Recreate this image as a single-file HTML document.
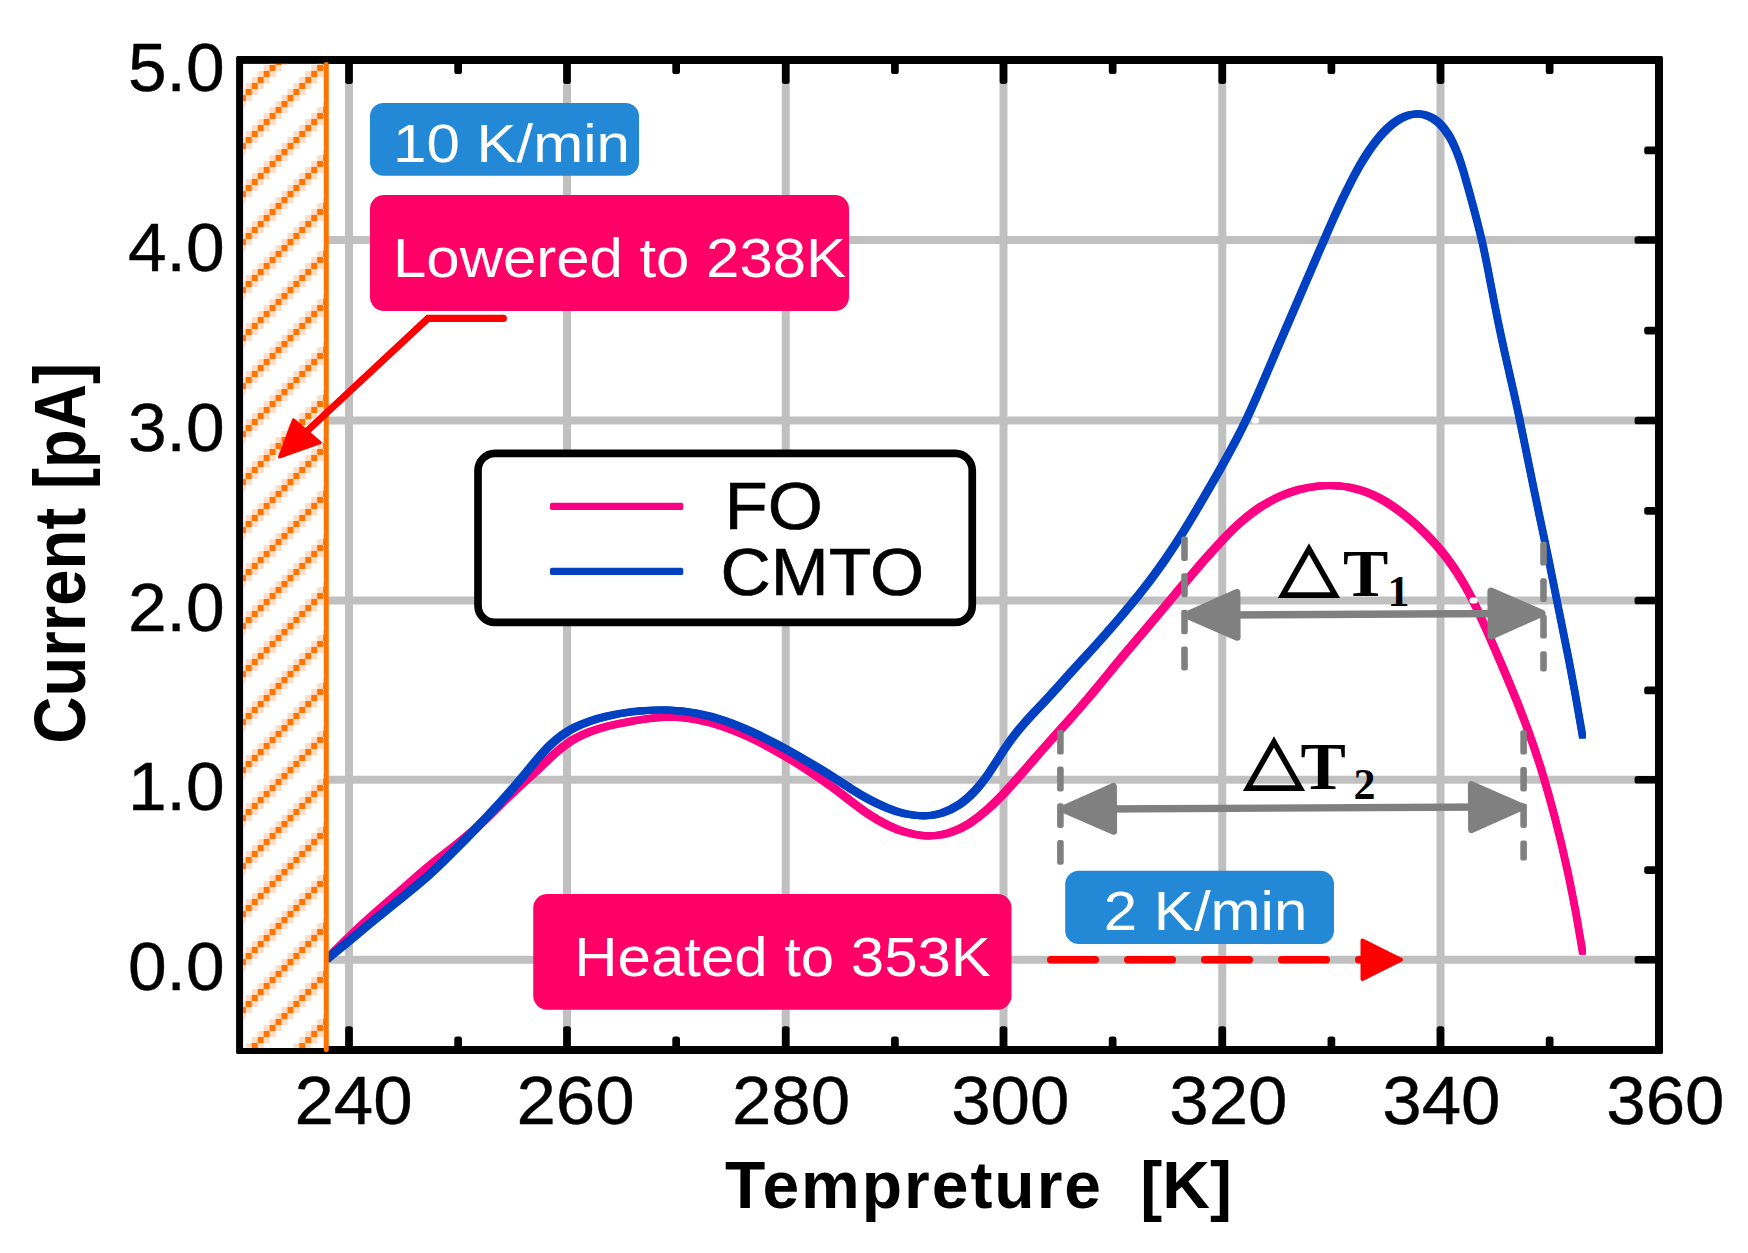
<!DOCTYPE html>
<html><head><meta charset="utf-8"><title>TSC chart</title>
<style>html,body{margin:0;padding:0;background:#fff}svg{display:block}</style></head>
<body>
<svg width="1748" height="1253" viewBox="0 0 1748 1253">
<defs><pattern id="hatch" width="48" height="48" patternUnits="userSpaceOnUse" patternTransform="translate(269.6 65) scale(0.991 1)" shape-rendering="crispEdges">
<rect x="42" y="0" width="6" height="6" fill="#FFDCC3"/>
<rect x="6" y="0" width="6" height="6" fill="#FFDCC3"/>
<rect x="0" y="0" width="6" height="6" fill="#FF7300"/>
<rect x="36" y="6" width="6" height="6" fill="#FFDCC3"/>
<rect x="0" y="6" width="6" height="6" fill="#FFDCC3"/>
<rect x="42" y="6" width="6" height="6" fill="#FF7300"/>
<rect x="30" y="12" width="6" height="6" fill="#FFDCC3"/>
<rect x="42" y="12" width="6" height="6" fill="#FFDCC3"/>
<rect x="36" y="12" width="6" height="6" fill="#FF7300"/>
<rect x="24" y="18" width="6" height="6" fill="#FFDCC3"/>
<rect x="36" y="18" width="6" height="6" fill="#FFDCC3"/>
<rect x="30" y="18" width="6" height="6" fill="#FF7300"/>
<rect x="18" y="24" width="6" height="6" fill="#FFDCC3"/>
<rect x="30" y="24" width="6" height="6" fill="#FFDCC3"/>
<rect x="24" y="24" width="6" height="6" fill="#FF7300"/>
<rect x="12" y="30" width="6" height="6" fill="#FFDCC3"/>
<rect x="24" y="30" width="6" height="6" fill="#FFDCC3"/>
<rect x="18" y="30" width="6" height="6" fill="#FF7300"/>
<rect x="6" y="36" width="6" height="6" fill="#FFDCC3"/>
<rect x="18" y="36" width="6" height="6" fill="#FFDCC3"/>
<rect x="12" y="36" width="6" height="6" fill="#FF7300"/>
<rect x="0" y="42" width="6" height="6" fill="#FFDCC3"/>
<rect x="12" y="42" width="6" height="6" fill="#FFDCC3"/>
<rect x="6" y="42" width="6" height="6" fill="#FF7300"/>
</pattern></defs>
<rect width="1748" height="1253" fill="#fff"/>
<g stroke="#C0C0C0" stroke-width="8" fill="none">
<line x1="349" y1="60.25" x2="349" y2="1050.0"/>
<line x1="567" y1="60.25" x2="567" y2="1050.0"/>
<line x1="785.75" y1="60.25" x2="785.75" y2="1050.0"/>
<line x1="1003.5" y1="60.25" x2="1003.5" y2="1050.0"/>
<line x1="1222.25" y1="60.25" x2="1222.25" y2="1050.0"/>
<line x1="1440.5" y1="60.25" x2="1440.5" y2="1050.0"/>
<line x1="240.0" y1="959.75" x2="1659.25" y2="959.75"/>
<line x1="240.0" y1="779.75" x2="1659.25" y2="779.75"/>
<line x1="240.0" y1="600.5" x2="1659.25" y2="600.5"/>
<line x1="240.0" y1="420.5" x2="1659.25" y2="420.5"/>
<line x1="240.0" y1="240" x2="1659.25" y2="240"/>
</g>
<g fill="#000">
<rect x="345.15" y="58.00" width="7.7" height="25.90" rx="2.6"/>
<rect x="345.15" y="1026.20" width="7.7" height="25.80" rx="2.6"/>
<rect x="454.30" y="58.00" width="7.7" height="16.10" rx="2.6"/>
<rect x="454.30" y="1036.40" width="7.7" height="15.60" rx="2.6"/>
<rect x="563.15" y="58.00" width="7.7" height="25.90" rx="2.6"/>
<rect x="563.15" y="1026.20" width="7.7" height="25.80" rx="2.6"/>
<rect x="672.30" y="58.00" width="7.7" height="16.10" rx="2.6"/>
<rect x="672.30" y="1036.40" width="7.7" height="15.60" rx="2.6"/>
<rect x="781.90" y="58.00" width="7.7" height="25.90" rx="2.6"/>
<rect x="781.90" y="1026.20" width="7.7" height="25.80" rx="2.6"/>
<rect x="891.05" y="58.00" width="7.7" height="16.10" rx="2.6"/>
<rect x="891.05" y="1036.40" width="7.7" height="15.60" rx="2.6"/>
<rect x="999.65" y="58.00" width="7.7" height="25.90" rx="2.6"/>
<rect x="999.65" y="1026.20" width="7.7" height="25.80" rx="2.6"/>
<rect x="1108.80" y="58.00" width="7.7" height="16.10" rx="2.6"/>
<rect x="1108.80" y="1036.40" width="7.7" height="15.60" rx="2.6"/>
<rect x="1218.40" y="58.00" width="7.7" height="25.90" rx="2.6"/>
<rect x="1218.40" y="1026.20" width="7.7" height="25.80" rx="2.6"/>
<rect x="1327.55" y="58.00" width="7.7" height="16.10" rx="2.6"/>
<rect x="1327.55" y="1036.40" width="7.7" height="15.60" rx="2.6"/>
<rect x="1436.65" y="58.00" width="7.7" height="25.90" rx="2.6"/>
<rect x="1436.65" y="1026.20" width="7.7" height="25.80" rx="2.6"/>
<rect x="1545.80" y="58.00" width="7.7" height="16.10" rx="2.6"/>
<rect x="1545.80" y="1036.40" width="7.7" height="15.60" rx="2.6"/>
<rect x="1634.60" y="236.15" width="26.40" height="7.7" rx="2.6"/>
<rect x="1644.20" y="146.58" width="16.80" height="7.7" rx="2.6"/>
<rect x="1634.60" y="416.65" width="26.40" height="7.7" rx="2.6"/>
<rect x="1644.20" y="326.70" width="16.80" height="7.7" rx="2.6"/>
<rect x="1634.60" y="596.65" width="26.40" height="7.7" rx="2.6"/>
<rect x="1644.20" y="506.95" width="16.80" height="7.7" rx="2.6"/>
<rect x="1634.60" y="775.90" width="26.40" height="7.7" rx="2.6"/>
<rect x="1644.20" y="686.57" width="16.80" height="7.7" rx="2.6"/>
<rect x="1634.60" y="955.90" width="26.40" height="7.7" rx="2.6"/>
<rect x="1644.20" y="866.20" width="16.80" height="7.7" rx="2.6"/>
</g>
<rect x="240" y="60" width="86" height="990" fill="#fff"/>
<ellipse cx="1255.3" cy="420.4" rx="3.9" ry="3.2" fill="#fff"/>
<g id="cpink" fill="none" stroke="#FF0084" stroke-width="3.0" stroke-linecap="round" stroke-linejoin="round">
<path transform="translate(-2.08 -2.08)" d="M327.5,958.5C327.9,958.1 328.3,957.7 328.7,957.3C334.8,951.1 341.0,945.0 347.2,938.9C356.1,930.4 365.2,922.0 374.4,913.8C383.2,906.1 392.1,898.5 400.9,890.8C410.3,882.5 419.5,874.1 429.1,866.2C437.7,859.1 446.7,852.4 455.4,845.5C462.3,839.9 469.2,834.2 475.8,828.2C484.0,820.7 492.0,812.9 499.9,805.0C504.1,800.9 508.3,796.8 512.5,792.8C517.1,788.4 521.8,784.1 526.4,779.8C530.4,776.3 534.3,772.7 538.2,769.0C541.3,766.1 544.5,763.1 547.7,760.1C550.8,757.1 554.0,754.2 557.3,751.4C560.4,748.7 563.6,746.2 567.0,743.8C569.9,741.8 572.8,739.9 575.9,738.2C580.2,735.9 584.6,733.9 589.2,732.1C595.1,729.8 601.2,727.9 607.5,726.3C614.8,724.4 622.4,722.9 629.9,721.6C633.5,720.9 637.1,720.3 640.7,719.8C649.9,718.4 659.1,717.4 668.2,717.2C677.4,717.1 686.5,717.8 695.6,719.4C704.9,721.0 714.0,723.4 723.0,726.4C732.3,729.6 741.5,733.4 750.5,737.6C759.9,742.1 769.1,746.9 778.1,752.1C787.4,757.3 796.5,762.8 805.5,768.6C814.7,774.5 823.8,780.7 832.6,787.3C838.4,791.6 844.1,796.1 849.9,800.5C856.0,805.2 862.1,809.9 868.5,814.2C874.3,818.1 880.4,821.7 886.7,824.8C892.6,827.7 898.7,830.3 905.1,832.1C911.0,833.9 917.2,835.2 923.3,835.6C927.5,836.0 931.8,835.9 936.0,835.5C940.9,835.0 945.7,834.0 950.4,832.5C956.8,830.4 963.0,827.4 968.8,823.8C975.4,819.6 981.6,814.7 987.5,809.4C993.8,803.8 999.8,797.7 1005.6,791.6C1008.7,788.2 1011.8,784.8 1014.8,781.4C1021.0,774.5 1027.1,767.4 1033.1,760.4C1039.2,753.4 1045.3,746.4 1051.5,739.5C1057.5,732.7 1063.6,726.0 1069.7,719.3C1075.8,712.5 1081.8,705.7 1087.7,698.8C1094.4,690.8 1101.0,682.7 1107.6,674.7C1113.9,666.9 1120.3,659.2 1126.7,651.6C1133.0,644.2 1139.3,636.8 1145.6,629.4C1152.1,621.8 1158.5,614.1 1164.9,606.5C1171.3,598.9 1177.7,591.2 1184.1,583.6C1190.4,576.2 1196.7,568.8 1203.1,561.4C1209.4,554.3 1215.7,547.2 1222.2,540.3C1228.4,533.7 1234.8,527.3 1241.6,521.4C1247.6,516.1 1253.9,511.3 1260.6,506.9C1266.7,503.0 1273.1,499.4 1279.8,496.4C1286.0,493.7 1292.4,491.4 1298.9,489.6C1305.2,488.0 1311.6,486.8 1318.1,486.1C1324.5,485.5 1330.9,485.3 1337.2,485.8C1338.2,485.9 1339.1,485.9 1340.0,486.0C1344.3,486.4 1348.6,487.1 1352.8,488.1C1357.1,489.1 1361.3,490.3 1365.4,491.8C1369.8,493.5 1374.1,495.4 1378.2,497.5C1382.6,499.8 1386.9,502.3 1391.0,505.1C1395.5,508.0 1399.8,511.2 1404.0,514.5C1408.4,518.0 1412.6,521.7 1416.8,525.4C1421.1,529.4 1425.4,533.5 1429.4,537.7C1433.8,542.3 1438.0,547.0 1442.0,551.9C1445.7,556.4 1449.1,561.0 1452.4,565.8C1455.6,570.3 1458.6,575.0 1461.4,579.7C1464.0,584.0 1466.5,588.3 1468.8,592.7C1470.6,596.0 1472.3,599.4 1474.0,602.8C1476.3,607.5 1478.5,612.1 1480.6,616.8C1482.6,621.2 1484.5,625.5 1486.5,629.9C1488.8,635.2 1491.2,640.5 1493.5,645.9C1496.7,653.2 1499.9,660.6 1503.0,668.0C1507.7,678.9 1512.3,689.9 1516.7,700.9C1521.1,711.9 1525.4,723.0 1529.4,734.1C1534.0,746.8 1538.2,759.5 1542.2,772.4C1546.8,787.6 1551.1,803.0 1555.1,818.4C1559.7,836.2 1563.9,854.1 1567.8,872.1C1570.5,884.8 1573.0,897.6 1575.4,910.4C1577.9,924.1 1580.2,937.8 1582.5,951.5"/>
<path transform="translate(-2.08 0.00)" d="M327.5,958.5C327.9,958.1 328.3,957.7 328.7,957.3C334.8,951.1 341.0,945.0 347.2,938.9C356.1,930.4 365.2,922.0 374.4,913.8C383.2,906.1 392.1,898.5 400.9,890.8C410.3,882.5 419.5,874.1 429.1,866.2C437.7,859.1 446.7,852.4 455.4,845.5C462.3,839.9 469.2,834.2 475.8,828.2C484.0,820.7 492.0,812.9 499.9,805.0C504.1,800.9 508.3,796.8 512.5,792.8C517.1,788.4 521.8,784.1 526.4,779.8C530.4,776.3 534.3,772.7 538.2,769.0C541.3,766.1 544.5,763.1 547.7,760.1C550.8,757.1 554.0,754.2 557.3,751.4C560.4,748.7 563.6,746.2 567.0,743.8C569.9,741.8 572.8,739.9 575.9,738.2C580.2,735.9 584.6,733.9 589.2,732.1C595.1,729.8 601.2,727.9 607.5,726.3C614.8,724.4 622.4,722.9 629.9,721.6C633.5,720.9 637.1,720.3 640.7,719.8C649.9,718.4 659.1,717.4 668.2,717.2C677.4,717.1 686.5,717.8 695.6,719.4C704.9,721.0 714.0,723.4 723.0,726.4C732.3,729.6 741.5,733.4 750.5,737.6C759.9,742.1 769.1,746.9 778.1,752.1C787.4,757.3 796.5,762.8 805.5,768.6C814.7,774.5 823.8,780.7 832.6,787.3C838.4,791.6 844.1,796.1 849.9,800.5C856.0,805.2 862.1,809.9 868.5,814.2C874.3,818.1 880.4,821.7 886.7,824.8C892.6,827.7 898.7,830.3 905.1,832.1C911.0,833.9 917.2,835.2 923.3,835.6C927.5,836.0 931.8,835.9 936.0,835.5C940.9,835.0 945.7,834.0 950.4,832.5C956.8,830.4 963.0,827.4 968.8,823.8C975.4,819.6 981.6,814.7 987.5,809.4C993.8,803.8 999.8,797.7 1005.6,791.6C1008.7,788.2 1011.8,784.8 1014.8,781.4C1021.0,774.5 1027.1,767.4 1033.1,760.4C1039.2,753.4 1045.3,746.4 1051.5,739.5C1057.5,732.7 1063.6,726.0 1069.7,719.3C1075.8,712.5 1081.8,705.7 1087.7,698.8C1094.4,690.8 1101.0,682.7 1107.6,674.7C1113.9,666.9 1120.3,659.2 1126.7,651.6C1133.0,644.2 1139.3,636.8 1145.6,629.4C1152.1,621.8 1158.5,614.1 1164.9,606.5C1171.3,598.9 1177.7,591.2 1184.1,583.6C1190.4,576.2 1196.7,568.8 1203.1,561.4C1209.4,554.3 1215.7,547.2 1222.2,540.3C1228.4,533.7 1234.8,527.3 1241.6,521.4C1247.6,516.1 1253.9,511.3 1260.6,506.9C1266.7,503.0 1273.1,499.4 1279.8,496.4C1286.0,493.7 1292.4,491.4 1298.9,489.6C1305.2,488.0 1311.6,486.8 1318.1,486.1C1324.5,485.5 1330.9,485.3 1337.2,485.8C1338.2,485.9 1339.1,485.9 1340.0,486.0C1344.3,486.4 1348.6,487.1 1352.8,488.1C1357.1,489.1 1361.3,490.3 1365.4,491.8C1369.8,493.5 1374.1,495.4 1378.2,497.5C1382.6,499.8 1386.9,502.3 1391.0,505.1C1395.5,508.0 1399.8,511.2 1404.0,514.5C1408.4,518.0 1412.6,521.7 1416.8,525.4C1421.1,529.4 1425.4,533.5 1429.4,537.7C1433.8,542.3 1438.0,547.0 1442.0,551.9C1445.7,556.4 1449.1,561.0 1452.4,565.8C1455.6,570.3 1458.6,575.0 1461.4,579.7C1464.0,584.0 1466.5,588.3 1468.8,592.7C1470.6,596.0 1472.3,599.4 1474.0,602.8C1476.3,607.5 1478.5,612.1 1480.6,616.8C1482.6,621.2 1484.5,625.5 1486.5,629.9C1488.8,635.2 1491.2,640.5 1493.5,645.9C1496.7,653.2 1499.9,660.6 1503.0,668.0C1507.7,678.9 1512.3,689.9 1516.7,700.9C1521.1,711.9 1525.4,723.0 1529.4,734.1C1534.0,746.8 1538.2,759.5 1542.2,772.4C1546.8,787.6 1551.1,803.0 1555.1,818.4C1559.7,836.2 1563.9,854.1 1567.8,872.1C1570.5,884.8 1573.0,897.6 1575.4,910.4C1577.9,924.1 1580.2,937.8 1582.5,951.5"/>
<path transform="translate(-2.08 2.08)" d="M327.5,958.5C327.9,958.1 328.3,957.7 328.7,957.3C334.8,951.1 341.0,945.0 347.2,938.9C356.1,930.4 365.2,922.0 374.4,913.8C383.2,906.1 392.1,898.5 400.9,890.8C410.3,882.5 419.5,874.1 429.1,866.2C437.7,859.1 446.7,852.4 455.4,845.5C462.3,839.9 469.2,834.2 475.8,828.2C484.0,820.7 492.0,812.9 499.9,805.0C504.1,800.9 508.3,796.8 512.5,792.8C517.1,788.4 521.8,784.1 526.4,779.8C530.4,776.3 534.3,772.7 538.2,769.0C541.3,766.1 544.5,763.1 547.7,760.1C550.8,757.1 554.0,754.2 557.3,751.4C560.4,748.7 563.6,746.2 567.0,743.8C569.9,741.8 572.8,739.9 575.9,738.2C580.2,735.9 584.6,733.9 589.2,732.1C595.1,729.8 601.2,727.9 607.5,726.3C614.8,724.4 622.4,722.9 629.9,721.6C633.5,720.9 637.1,720.3 640.7,719.8C649.9,718.4 659.1,717.4 668.2,717.2C677.4,717.1 686.5,717.8 695.6,719.4C704.9,721.0 714.0,723.4 723.0,726.4C732.3,729.6 741.5,733.4 750.5,737.6C759.9,742.1 769.1,746.9 778.1,752.1C787.4,757.3 796.5,762.8 805.5,768.6C814.7,774.5 823.8,780.7 832.6,787.3C838.4,791.6 844.1,796.1 849.9,800.5C856.0,805.2 862.1,809.9 868.5,814.2C874.3,818.1 880.4,821.7 886.7,824.8C892.6,827.7 898.7,830.3 905.1,832.1C911.0,833.9 917.2,835.2 923.3,835.6C927.5,836.0 931.8,835.9 936.0,835.5C940.9,835.0 945.7,834.0 950.4,832.5C956.8,830.4 963.0,827.4 968.8,823.8C975.4,819.6 981.6,814.7 987.5,809.4C993.8,803.8 999.8,797.7 1005.6,791.6C1008.7,788.2 1011.8,784.8 1014.8,781.4C1021.0,774.5 1027.1,767.4 1033.1,760.4C1039.2,753.4 1045.3,746.4 1051.5,739.5C1057.5,732.7 1063.6,726.0 1069.7,719.3C1075.8,712.5 1081.8,705.7 1087.7,698.8C1094.4,690.8 1101.0,682.7 1107.6,674.7C1113.9,666.9 1120.3,659.2 1126.7,651.6C1133.0,644.2 1139.3,636.8 1145.6,629.4C1152.1,621.8 1158.5,614.1 1164.9,606.5C1171.3,598.9 1177.7,591.2 1184.1,583.6C1190.4,576.2 1196.7,568.8 1203.1,561.4C1209.4,554.3 1215.7,547.2 1222.2,540.3C1228.4,533.7 1234.8,527.3 1241.6,521.4C1247.6,516.1 1253.9,511.3 1260.6,506.9C1266.7,503.0 1273.1,499.4 1279.8,496.4C1286.0,493.7 1292.4,491.4 1298.9,489.6C1305.2,488.0 1311.6,486.8 1318.1,486.1C1324.5,485.5 1330.9,485.3 1337.2,485.8C1338.2,485.9 1339.1,485.9 1340.0,486.0C1344.3,486.4 1348.6,487.1 1352.8,488.1C1357.1,489.1 1361.3,490.3 1365.4,491.8C1369.8,493.5 1374.1,495.4 1378.2,497.5C1382.6,499.8 1386.9,502.3 1391.0,505.1C1395.5,508.0 1399.8,511.2 1404.0,514.5C1408.4,518.0 1412.6,521.7 1416.8,525.4C1421.1,529.4 1425.4,533.5 1429.4,537.7C1433.8,542.3 1438.0,547.0 1442.0,551.9C1445.7,556.4 1449.1,561.0 1452.4,565.8C1455.6,570.3 1458.6,575.0 1461.4,579.7C1464.0,584.0 1466.5,588.3 1468.8,592.7C1470.6,596.0 1472.3,599.4 1474.0,602.8C1476.3,607.5 1478.5,612.1 1480.6,616.8C1482.6,621.2 1484.5,625.5 1486.5,629.9C1488.8,635.2 1491.2,640.5 1493.5,645.9C1496.7,653.2 1499.9,660.6 1503.0,668.0C1507.7,678.9 1512.3,689.9 1516.7,700.9C1521.1,711.9 1525.4,723.0 1529.4,734.1C1534.0,746.8 1538.2,759.5 1542.2,772.4C1546.8,787.6 1551.1,803.0 1555.1,818.4C1559.7,836.2 1563.9,854.1 1567.8,872.1C1570.5,884.8 1573.0,897.6 1575.4,910.4C1577.9,924.1 1580.2,937.8 1582.5,951.5"/>
<path transform="translate(0.00 -2.08)" d="M327.5,958.5C327.9,958.1 328.3,957.7 328.7,957.3C334.8,951.1 341.0,945.0 347.2,938.9C356.1,930.4 365.2,922.0 374.4,913.8C383.2,906.1 392.1,898.5 400.9,890.8C410.3,882.5 419.5,874.1 429.1,866.2C437.7,859.1 446.7,852.4 455.4,845.5C462.3,839.9 469.2,834.2 475.8,828.2C484.0,820.7 492.0,812.9 499.9,805.0C504.1,800.9 508.3,796.8 512.5,792.8C517.1,788.4 521.8,784.1 526.4,779.8C530.4,776.3 534.3,772.7 538.2,769.0C541.3,766.1 544.5,763.1 547.7,760.1C550.8,757.1 554.0,754.2 557.3,751.4C560.4,748.7 563.6,746.2 567.0,743.8C569.9,741.8 572.8,739.9 575.9,738.2C580.2,735.9 584.6,733.9 589.2,732.1C595.1,729.8 601.2,727.9 607.5,726.3C614.8,724.4 622.4,722.9 629.9,721.6C633.5,720.9 637.1,720.3 640.7,719.8C649.9,718.4 659.1,717.4 668.2,717.2C677.4,717.1 686.5,717.8 695.6,719.4C704.9,721.0 714.0,723.4 723.0,726.4C732.3,729.6 741.5,733.4 750.5,737.6C759.9,742.1 769.1,746.9 778.1,752.1C787.4,757.3 796.5,762.8 805.5,768.6C814.7,774.5 823.8,780.7 832.6,787.3C838.4,791.6 844.1,796.1 849.9,800.5C856.0,805.2 862.1,809.9 868.5,814.2C874.3,818.1 880.4,821.7 886.7,824.8C892.6,827.7 898.7,830.3 905.1,832.1C911.0,833.9 917.2,835.2 923.3,835.6C927.5,836.0 931.8,835.9 936.0,835.5C940.9,835.0 945.7,834.0 950.4,832.5C956.8,830.4 963.0,827.4 968.8,823.8C975.4,819.6 981.6,814.7 987.5,809.4C993.8,803.8 999.8,797.7 1005.6,791.6C1008.7,788.2 1011.8,784.8 1014.8,781.4C1021.0,774.5 1027.1,767.4 1033.1,760.4C1039.2,753.4 1045.3,746.4 1051.5,739.5C1057.5,732.7 1063.6,726.0 1069.7,719.3C1075.8,712.5 1081.8,705.7 1087.7,698.8C1094.4,690.8 1101.0,682.7 1107.6,674.7C1113.9,666.9 1120.3,659.2 1126.7,651.6C1133.0,644.2 1139.3,636.8 1145.6,629.4C1152.1,621.8 1158.5,614.1 1164.9,606.5C1171.3,598.9 1177.7,591.2 1184.1,583.6C1190.4,576.2 1196.7,568.8 1203.1,561.4C1209.4,554.3 1215.7,547.2 1222.2,540.3C1228.4,533.7 1234.8,527.3 1241.6,521.4C1247.6,516.1 1253.9,511.3 1260.6,506.9C1266.7,503.0 1273.1,499.4 1279.8,496.4C1286.0,493.7 1292.4,491.4 1298.9,489.6C1305.2,488.0 1311.6,486.8 1318.1,486.1C1324.5,485.5 1330.9,485.3 1337.2,485.8C1338.2,485.9 1339.1,485.9 1340.0,486.0C1344.3,486.4 1348.6,487.1 1352.8,488.1C1357.1,489.1 1361.3,490.3 1365.4,491.8C1369.8,493.5 1374.1,495.4 1378.2,497.5C1382.6,499.8 1386.9,502.3 1391.0,505.1C1395.5,508.0 1399.8,511.2 1404.0,514.5C1408.4,518.0 1412.6,521.7 1416.8,525.4C1421.1,529.4 1425.4,533.5 1429.4,537.7C1433.8,542.3 1438.0,547.0 1442.0,551.9C1445.7,556.4 1449.1,561.0 1452.4,565.8C1455.6,570.3 1458.6,575.0 1461.4,579.7C1464.0,584.0 1466.5,588.3 1468.8,592.7C1470.6,596.0 1472.3,599.4 1474.0,602.8C1476.3,607.5 1478.5,612.1 1480.6,616.8C1482.6,621.2 1484.5,625.5 1486.5,629.9C1488.8,635.2 1491.2,640.5 1493.5,645.9C1496.7,653.2 1499.9,660.6 1503.0,668.0C1507.7,678.9 1512.3,689.9 1516.7,700.9C1521.1,711.9 1525.4,723.0 1529.4,734.1C1534.0,746.8 1538.2,759.5 1542.2,772.4C1546.8,787.6 1551.1,803.0 1555.1,818.4C1559.7,836.2 1563.9,854.1 1567.8,872.1C1570.5,884.8 1573.0,897.6 1575.4,910.4C1577.9,924.1 1580.2,937.8 1582.5,951.5"/>
<path transform="translate(0.00 0.00)" d="M327.5,958.5C327.9,958.1 328.3,957.7 328.7,957.3C334.8,951.1 341.0,945.0 347.2,938.9C356.1,930.4 365.2,922.0 374.4,913.8C383.2,906.1 392.1,898.5 400.9,890.8C410.3,882.5 419.5,874.1 429.1,866.2C437.7,859.1 446.7,852.4 455.4,845.5C462.3,839.9 469.2,834.2 475.8,828.2C484.0,820.7 492.0,812.9 499.9,805.0C504.1,800.9 508.3,796.8 512.5,792.8C517.1,788.4 521.8,784.1 526.4,779.8C530.4,776.3 534.3,772.7 538.2,769.0C541.3,766.1 544.5,763.1 547.7,760.1C550.8,757.1 554.0,754.2 557.3,751.4C560.4,748.7 563.6,746.2 567.0,743.8C569.9,741.8 572.8,739.9 575.9,738.2C580.2,735.9 584.6,733.9 589.2,732.1C595.1,729.8 601.2,727.9 607.5,726.3C614.8,724.4 622.4,722.9 629.9,721.6C633.5,720.9 637.1,720.3 640.7,719.8C649.9,718.4 659.1,717.4 668.2,717.2C677.4,717.1 686.5,717.8 695.6,719.4C704.9,721.0 714.0,723.4 723.0,726.4C732.3,729.6 741.5,733.4 750.5,737.6C759.9,742.1 769.1,746.9 778.1,752.1C787.4,757.3 796.5,762.8 805.5,768.6C814.7,774.5 823.8,780.7 832.6,787.3C838.4,791.6 844.1,796.1 849.9,800.5C856.0,805.2 862.1,809.9 868.5,814.2C874.3,818.1 880.4,821.7 886.7,824.8C892.6,827.7 898.7,830.3 905.1,832.1C911.0,833.9 917.2,835.2 923.3,835.6C927.5,836.0 931.8,835.9 936.0,835.5C940.9,835.0 945.7,834.0 950.4,832.5C956.8,830.4 963.0,827.4 968.8,823.8C975.4,819.6 981.6,814.7 987.5,809.4C993.8,803.8 999.8,797.7 1005.6,791.6C1008.7,788.2 1011.8,784.8 1014.8,781.4C1021.0,774.5 1027.1,767.4 1033.1,760.4C1039.2,753.4 1045.3,746.4 1051.5,739.5C1057.5,732.7 1063.6,726.0 1069.7,719.3C1075.8,712.5 1081.8,705.7 1087.7,698.8C1094.4,690.8 1101.0,682.7 1107.6,674.7C1113.9,666.9 1120.3,659.2 1126.7,651.6C1133.0,644.2 1139.3,636.8 1145.6,629.4C1152.1,621.8 1158.5,614.1 1164.9,606.5C1171.3,598.9 1177.7,591.2 1184.1,583.6C1190.4,576.2 1196.7,568.8 1203.1,561.4C1209.4,554.3 1215.7,547.2 1222.2,540.3C1228.4,533.7 1234.8,527.3 1241.6,521.4C1247.6,516.1 1253.9,511.3 1260.6,506.9C1266.7,503.0 1273.1,499.4 1279.8,496.4C1286.0,493.7 1292.4,491.4 1298.9,489.6C1305.2,488.0 1311.6,486.8 1318.1,486.1C1324.5,485.5 1330.9,485.3 1337.2,485.8C1338.2,485.9 1339.1,485.9 1340.0,486.0C1344.3,486.4 1348.6,487.1 1352.8,488.1C1357.1,489.1 1361.3,490.3 1365.4,491.8C1369.8,493.5 1374.1,495.4 1378.2,497.5C1382.6,499.8 1386.9,502.3 1391.0,505.1C1395.5,508.0 1399.8,511.2 1404.0,514.5C1408.4,518.0 1412.6,521.7 1416.8,525.4C1421.1,529.4 1425.4,533.5 1429.4,537.7C1433.8,542.3 1438.0,547.0 1442.0,551.9C1445.7,556.4 1449.1,561.0 1452.4,565.8C1455.6,570.3 1458.6,575.0 1461.4,579.7C1464.0,584.0 1466.5,588.3 1468.8,592.7C1470.6,596.0 1472.3,599.4 1474.0,602.8C1476.3,607.5 1478.5,612.1 1480.6,616.8C1482.6,621.2 1484.5,625.5 1486.5,629.9C1488.8,635.2 1491.2,640.5 1493.5,645.9C1496.7,653.2 1499.9,660.6 1503.0,668.0C1507.7,678.9 1512.3,689.9 1516.7,700.9C1521.1,711.9 1525.4,723.0 1529.4,734.1C1534.0,746.8 1538.2,759.5 1542.2,772.4C1546.8,787.6 1551.1,803.0 1555.1,818.4C1559.7,836.2 1563.9,854.1 1567.8,872.1C1570.5,884.8 1573.0,897.6 1575.4,910.4C1577.9,924.1 1580.2,937.8 1582.5,951.5"/>
<path transform="translate(0.00 2.08)" d="M327.5,958.5C327.9,958.1 328.3,957.7 328.7,957.3C334.8,951.1 341.0,945.0 347.2,938.9C356.1,930.4 365.2,922.0 374.4,913.8C383.2,906.1 392.1,898.5 400.9,890.8C410.3,882.5 419.5,874.1 429.1,866.2C437.7,859.1 446.7,852.4 455.4,845.5C462.3,839.9 469.2,834.2 475.8,828.2C484.0,820.7 492.0,812.9 499.9,805.0C504.1,800.9 508.3,796.8 512.5,792.8C517.1,788.4 521.8,784.1 526.4,779.8C530.4,776.3 534.3,772.7 538.2,769.0C541.3,766.1 544.5,763.1 547.7,760.1C550.8,757.1 554.0,754.2 557.3,751.4C560.4,748.7 563.6,746.2 567.0,743.8C569.9,741.8 572.8,739.9 575.9,738.2C580.2,735.9 584.6,733.9 589.2,732.1C595.1,729.8 601.2,727.9 607.5,726.3C614.8,724.4 622.4,722.9 629.9,721.6C633.5,720.9 637.1,720.3 640.7,719.8C649.9,718.4 659.1,717.4 668.2,717.2C677.4,717.1 686.5,717.8 695.6,719.4C704.9,721.0 714.0,723.4 723.0,726.4C732.3,729.6 741.5,733.4 750.5,737.6C759.9,742.1 769.1,746.9 778.1,752.1C787.4,757.3 796.5,762.8 805.5,768.6C814.7,774.5 823.8,780.7 832.6,787.3C838.4,791.6 844.1,796.1 849.9,800.5C856.0,805.2 862.1,809.9 868.5,814.2C874.3,818.1 880.4,821.7 886.7,824.8C892.6,827.7 898.7,830.3 905.1,832.1C911.0,833.9 917.2,835.2 923.3,835.6C927.5,836.0 931.8,835.9 936.0,835.5C940.9,835.0 945.7,834.0 950.4,832.5C956.8,830.4 963.0,827.4 968.8,823.8C975.4,819.6 981.6,814.7 987.5,809.4C993.8,803.8 999.8,797.7 1005.6,791.6C1008.7,788.2 1011.8,784.8 1014.8,781.4C1021.0,774.5 1027.1,767.4 1033.1,760.4C1039.2,753.4 1045.3,746.4 1051.5,739.5C1057.5,732.7 1063.6,726.0 1069.7,719.3C1075.8,712.5 1081.8,705.7 1087.7,698.8C1094.4,690.8 1101.0,682.7 1107.6,674.7C1113.9,666.9 1120.3,659.2 1126.7,651.6C1133.0,644.2 1139.3,636.8 1145.6,629.4C1152.1,621.8 1158.5,614.1 1164.9,606.5C1171.3,598.9 1177.7,591.2 1184.1,583.6C1190.4,576.2 1196.7,568.8 1203.1,561.4C1209.4,554.3 1215.7,547.2 1222.2,540.3C1228.4,533.7 1234.8,527.3 1241.6,521.4C1247.6,516.1 1253.9,511.3 1260.6,506.9C1266.7,503.0 1273.1,499.4 1279.8,496.4C1286.0,493.7 1292.4,491.4 1298.9,489.6C1305.2,488.0 1311.6,486.8 1318.1,486.1C1324.5,485.5 1330.9,485.3 1337.2,485.8C1338.2,485.9 1339.1,485.9 1340.0,486.0C1344.3,486.4 1348.6,487.1 1352.8,488.1C1357.1,489.1 1361.3,490.3 1365.4,491.8C1369.8,493.5 1374.1,495.4 1378.2,497.5C1382.6,499.8 1386.9,502.3 1391.0,505.1C1395.5,508.0 1399.8,511.2 1404.0,514.5C1408.4,518.0 1412.6,521.7 1416.8,525.4C1421.1,529.4 1425.4,533.5 1429.4,537.7C1433.8,542.3 1438.0,547.0 1442.0,551.9C1445.7,556.4 1449.1,561.0 1452.4,565.8C1455.6,570.3 1458.6,575.0 1461.4,579.7C1464.0,584.0 1466.5,588.3 1468.8,592.7C1470.6,596.0 1472.3,599.4 1474.0,602.8C1476.3,607.5 1478.5,612.1 1480.6,616.8C1482.6,621.2 1484.5,625.5 1486.5,629.9C1488.8,635.2 1491.2,640.5 1493.5,645.9C1496.7,653.2 1499.9,660.6 1503.0,668.0C1507.7,678.9 1512.3,689.9 1516.7,700.9C1521.1,711.9 1525.4,723.0 1529.4,734.1C1534.0,746.8 1538.2,759.5 1542.2,772.4C1546.8,787.6 1551.1,803.0 1555.1,818.4C1559.7,836.2 1563.9,854.1 1567.8,872.1C1570.5,884.8 1573.0,897.6 1575.4,910.4C1577.9,924.1 1580.2,937.8 1582.5,951.5"/>
<path transform="translate(2.08 -2.08)" d="M327.5,958.5C327.9,958.1 328.3,957.7 328.7,957.3C334.8,951.1 341.0,945.0 347.2,938.9C356.1,930.4 365.2,922.0 374.4,913.8C383.2,906.1 392.1,898.5 400.9,890.8C410.3,882.5 419.5,874.1 429.1,866.2C437.7,859.1 446.7,852.4 455.4,845.5C462.3,839.9 469.2,834.2 475.8,828.2C484.0,820.7 492.0,812.9 499.9,805.0C504.1,800.9 508.3,796.8 512.5,792.8C517.1,788.4 521.8,784.1 526.4,779.8C530.4,776.3 534.3,772.7 538.2,769.0C541.3,766.1 544.5,763.1 547.7,760.1C550.8,757.1 554.0,754.2 557.3,751.4C560.4,748.7 563.6,746.2 567.0,743.8C569.9,741.8 572.8,739.9 575.9,738.2C580.2,735.9 584.6,733.9 589.2,732.1C595.1,729.8 601.2,727.9 607.5,726.3C614.8,724.4 622.4,722.9 629.9,721.6C633.5,720.9 637.1,720.3 640.7,719.8C649.9,718.4 659.1,717.4 668.2,717.2C677.4,717.1 686.5,717.8 695.6,719.4C704.9,721.0 714.0,723.4 723.0,726.4C732.3,729.6 741.5,733.4 750.5,737.6C759.9,742.1 769.1,746.9 778.1,752.1C787.4,757.3 796.5,762.8 805.5,768.6C814.7,774.5 823.8,780.7 832.6,787.3C838.4,791.6 844.1,796.1 849.9,800.5C856.0,805.2 862.1,809.9 868.5,814.2C874.3,818.1 880.4,821.7 886.7,824.8C892.6,827.7 898.7,830.3 905.1,832.1C911.0,833.9 917.2,835.2 923.3,835.6C927.5,836.0 931.8,835.9 936.0,835.5C940.9,835.0 945.7,834.0 950.4,832.5C956.8,830.4 963.0,827.4 968.8,823.8C975.4,819.6 981.6,814.7 987.5,809.4C993.8,803.8 999.8,797.7 1005.6,791.6C1008.7,788.2 1011.8,784.8 1014.8,781.4C1021.0,774.5 1027.1,767.4 1033.1,760.4C1039.2,753.4 1045.3,746.4 1051.5,739.5C1057.5,732.7 1063.6,726.0 1069.7,719.3C1075.8,712.5 1081.8,705.7 1087.7,698.8C1094.4,690.8 1101.0,682.7 1107.6,674.7C1113.9,666.9 1120.3,659.2 1126.7,651.6C1133.0,644.2 1139.3,636.8 1145.6,629.4C1152.1,621.8 1158.5,614.1 1164.9,606.5C1171.3,598.9 1177.7,591.2 1184.1,583.6C1190.4,576.2 1196.7,568.8 1203.1,561.4C1209.4,554.3 1215.7,547.2 1222.2,540.3C1228.4,533.7 1234.8,527.3 1241.6,521.4C1247.6,516.1 1253.9,511.3 1260.6,506.9C1266.7,503.0 1273.1,499.4 1279.8,496.4C1286.0,493.7 1292.4,491.4 1298.9,489.6C1305.2,488.0 1311.6,486.8 1318.1,486.1C1324.5,485.5 1330.9,485.3 1337.2,485.8C1338.2,485.9 1339.1,485.9 1340.0,486.0C1344.3,486.4 1348.6,487.1 1352.8,488.1C1357.1,489.1 1361.3,490.3 1365.4,491.8C1369.8,493.5 1374.1,495.4 1378.2,497.5C1382.6,499.8 1386.9,502.3 1391.0,505.1C1395.5,508.0 1399.8,511.2 1404.0,514.5C1408.4,518.0 1412.6,521.7 1416.8,525.4C1421.1,529.4 1425.4,533.5 1429.4,537.7C1433.8,542.3 1438.0,547.0 1442.0,551.9C1445.7,556.4 1449.1,561.0 1452.4,565.8C1455.6,570.3 1458.6,575.0 1461.4,579.7C1464.0,584.0 1466.5,588.3 1468.8,592.7C1470.6,596.0 1472.3,599.4 1474.0,602.8C1476.3,607.5 1478.5,612.1 1480.6,616.8C1482.6,621.2 1484.5,625.5 1486.5,629.9C1488.8,635.2 1491.2,640.5 1493.5,645.9C1496.7,653.2 1499.9,660.6 1503.0,668.0C1507.7,678.9 1512.3,689.9 1516.7,700.9C1521.1,711.9 1525.4,723.0 1529.4,734.1C1534.0,746.8 1538.2,759.5 1542.2,772.4C1546.8,787.6 1551.1,803.0 1555.1,818.4C1559.7,836.2 1563.9,854.1 1567.8,872.1C1570.5,884.8 1573.0,897.6 1575.4,910.4C1577.9,924.1 1580.2,937.8 1582.5,951.5"/>
<path transform="translate(2.08 0.00)" d="M327.5,958.5C327.9,958.1 328.3,957.7 328.7,957.3C334.8,951.1 341.0,945.0 347.2,938.9C356.1,930.4 365.2,922.0 374.4,913.8C383.2,906.1 392.1,898.5 400.9,890.8C410.3,882.5 419.5,874.1 429.1,866.2C437.7,859.1 446.7,852.4 455.4,845.5C462.3,839.9 469.2,834.2 475.8,828.2C484.0,820.7 492.0,812.9 499.9,805.0C504.1,800.9 508.3,796.8 512.5,792.8C517.1,788.4 521.8,784.1 526.4,779.8C530.4,776.3 534.3,772.7 538.2,769.0C541.3,766.1 544.5,763.1 547.7,760.1C550.8,757.1 554.0,754.2 557.3,751.4C560.4,748.7 563.6,746.2 567.0,743.8C569.9,741.8 572.8,739.9 575.9,738.2C580.2,735.9 584.6,733.9 589.2,732.1C595.1,729.8 601.2,727.9 607.5,726.3C614.8,724.4 622.4,722.9 629.9,721.6C633.5,720.9 637.1,720.3 640.7,719.8C649.9,718.4 659.1,717.4 668.2,717.2C677.4,717.1 686.5,717.8 695.6,719.4C704.9,721.0 714.0,723.4 723.0,726.4C732.3,729.6 741.5,733.4 750.5,737.6C759.9,742.1 769.1,746.9 778.1,752.1C787.4,757.3 796.5,762.8 805.5,768.6C814.7,774.5 823.8,780.7 832.6,787.3C838.4,791.6 844.1,796.1 849.9,800.5C856.0,805.2 862.1,809.9 868.5,814.2C874.3,818.1 880.4,821.7 886.7,824.8C892.6,827.7 898.7,830.3 905.1,832.1C911.0,833.9 917.2,835.2 923.3,835.6C927.5,836.0 931.8,835.9 936.0,835.5C940.9,835.0 945.7,834.0 950.4,832.5C956.8,830.4 963.0,827.4 968.8,823.8C975.4,819.6 981.6,814.7 987.5,809.4C993.8,803.8 999.8,797.7 1005.6,791.6C1008.7,788.2 1011.8,784.8 1014.8,781.4C1021.0,774.5 1027.1,767.4 1033.1,760.4C1039.2,753.4 1045.3,746.4 1051.5,739.5C1057.5,732.7 1063.6,726.0 1069.7,719.3C1075.8,712.5 1081.8,705.7 1087.7,698.8C1094.4,690.8 1101.0,682.7 1107.6,674.7C1113.9,666.9 1120.3,659.2 1126.7,651.6C1133.0,644.2 1139.3,636.8 1145.6,629.4C1152.1,621.8 1158.5,614.1 1164.9,606.5C1171.3,598.9 1177.7,591.2 1184.1,583.6C1190.4,576.2 1196.7,568.8 1203.1,561.4C1209.4,554.3 1215.7,547.2 1222.2,540.3C1228.4,533.7 1234.8,527.3 1241.6,521.4C1247.6,516.1 1253.9,511.3 1260.6,506.9C1266.7,503.0 1273.1,499.4 1279.8,496.4C1286.0,493.7 1292.4,491.4 1298.9,489.6C1305.2,488.0 1311.6,486.8 1318.1,486.1C1324.5,485.5 1330.9,485.3 1337.2,485.8C1338.2,485.9 1339.1,485.9 1340.0,486.0C1344.3,486.4 1348.6,487.1 1352.8,488.1C1357.1,489.1 1361.3,490.3 1365.4,491.8C1369.8,493.5 1374.1,495.4 1378.2,497.5C1382.6,499.8 1386.9,502.3 1391.0,505.1C1395.5,508.0 1399.8,511.2 1404.0,514.5C1408.4,518.0 1412.6,521.7 1416.8,525.4C1421.1,529.4 1425.4,533.5 1429.4,537.7C1433.8,542.3 1438.0,547.0 1442.0,551.9C1445.7,556.4 1449.1,561.0 1452.4,565.8C1455.6,570.3 1458.6,575.0 1461.4,579.7C1464.0,584.0 1466.5,588.3 1468.8,592.7C1470.6,596.0 1472.3,599.4 1474.0,602.8C1476.3,607.5 1478.5,612.1 1480.6,616.8C1482.6,621.2 1484.5,625.5 1486.5,629.9C1488.8,635.2 1491.2,640.5 1493.5,645.9C1496.7,653.2 1499.9,660.6 1503.0,668.0C1507.7,678.9 1512.3,689.9 1516.7,700.9C1521.1,711.9 1525.4,723.0 1529.4,734.1C1534.0,746.8 1538.2,759.5 1542.2,772.4C1546.8,787.6 1551.1,803.0 1555.1,818.4C1559.7,836.2 1563.9,854.1 1567.8,872.1C1570.5,884.8 1573.0,897.6 1575.4,910.4C1577.9,924.1 1580.2,937.8 1582.5,951.5"/>
<path transform="translate(2.08 2.08)" d="M327.5,958.5C327.9,958.1 328.3,957.7 328.7,957.3C334.8,951.1 341.0,945.0 347.2,938.9C356.1,930.4 365.2,922.0 374.4,913.8C383.2,906.1 392.1,898.5 400.9,890.8C410.3,882.5 419.5,874.1 429.1,866.2C437.7,859.1 446.7,852.4 455.4,845.5C462.3,839.9 469.2,834.2 475.8,828.2C484.0,820.7 492.0,812.9 499.9,805.0C504.1,800.9 508.3,796.8 512.5,792.8C517.1,788.4 521.8,784.1 526.4,779.8C530.4,776.3 534.3,772.7 538.2,769.0C541.3,766.1 544.5,763.1 547.7,760.1C550.8,757.1 554.0,754.2 557.3,751.4C560.4,748.7 563.6,746.2 567.0,743.8C569.9,741.8 572.8,739.9 575.9,738.2C580.2,735.9 584.6,733.9 589.2,732.1C595.1,729.8 601.2,727.9 607.5,726.3C614.8,724.4 622.4,722.9 629.9,721.6C633.5,720.9 637.1,720.3 640.7,719.8C649.9,718.4 659.1,717.4 668.2,717.2C677.4,717.1 686.5,717.8 695.6,719.4C704.9,721.0 714.0,723.4 723.0,726.4C732.3,729.6 741.5,733.4 750.5,737.6C759.9,742.1 769.1,746.9 778.1,752.1C787.4,757.3 796.5,762.8 805.5,768.6C814.7,774.5 823.8,780.7 832.6,787.3C838.4,791.6 844.1,796.1 849.9,800.5C856.0,805.2 862.1,809.9 868.5,814.2C874.3,818.1 880.4,821.7 886.7,824.8C892.6,827.7 898.7,830.3 905.1,832.1C911.0,833.9 917.2,835.2 923.3,835.6C927.5,836.0 931.8,835.9 936.0,835.5C940.9,835.0 945.7,834.0 950.4,832.5C956.8,830.4 963.0,827.4 968.8,823.8C975.4,819.6 981.6,814.7 987.5,809.4C993.8,803.8 999.8,797.7 1005.6,791.6C1008.7,788.2 1011.8,784.8 1014.8,781.4C1021.0,774.5 1027.1,767.4 1033.1,760.4C1039.2,753.4 1045.3,746.4 1051.5,739.5C1057.5,732.7 1063.6,726.0 1069.7,719.3C1075.8,712.5 1081.8,705.7 1087.7,698.8C1094.4,690.8 1101.0,682.7 1107.6,674.7C1113.9,666.9 1120.3,659.2 1126.7,651.6C1133.0,644.2 1139.3,636.8 1145.6,629.4C1152.1,621.8 1158.5,614.1 1164.9,606.5C1171.3,598.9 1177.7,591.2 1184.1,583.6C1190.4,576.2 1196.7,568.8 1203.1,561.4C1209.4,554.3 1215.7,547.2 1222.2,540.3C1228.4,533.7 1234.8,527.3 1241.6,521.4C1247.6,516.1 1253.9,511.3 1260.6,506.9C1266.7,503.0 1273.1,499.4 1279.8,496.4C1286.0,493.7 1292.4,491.4 1298.9,489.6C1305.2,488.0 1311.6,486.8 1318.1,486.1C1324.5,485.5 1330.9,485.3 1337.2,485.8C1338.2,485.9 1339.1,485.9 1340.0,486.0C1344.3,486.4 1348.6,487.1 1352.8,488.1C1357.1,489.1 1361.3,490.3 1365.4,491.8C1369.8,493.5 1374.1,495.4 1378.2,497.5C1382.6,499.8 1386.9,502.3 1391.0,505.1C1395.5,508.0 1399.8,511.2 1404.0,514.5C1408.4,518.0 1412.6,521.7 1416.8,525.4C1421.1,529.4 1425.4,533.5 1429.4,537.7C1433.8,542.3 1438.0,547.0 1442.0,551.9C1445.7,556.4 1449.1,561.0 1452.4,565.8C1455.6,570.3 1458.6,575.0 1461.4,579.7C1464.0,584.0 1466.5,588.3 1468.8,592.7C1470.6,596.0 1472.3,599.4 1474.0,602.8C1476.3,607.5 1478.5,612.1 1480.6,616.8C1482.6,621.2 1484.5,625.5 1486.5,629.9C1488.8,635.2 1491.2,640.5 1493.5,645.9C1496.7,653.2 1499.9,660.6 1503.0,668.0C1507.7,678.9 1512.3,689.9 1516.7,700.9C1521.1,711.9 1525.4,723.0 1529.4,734.1C1534.0,746.8 1538.2,759.5 1542.2,772.4C1546.8,787.6 1551.1,803.0 1555.1,818.4C1559.7,836.2 1563.9,854.1 1567.8,872.1C1570.5,884.8 1573.0,897.6 1575.4,910.4C1577.9,924.1 1580.2,937.8 1582.5,951.5"/>
</g>
<g id="cblue" fill="none" stroke="#0041C2" stroke-width="3.0" stroke-linecap="round" stroke-linejoin="round">
<path transform="translate(-2.08 -2.08)" d="M327.5,958.5C327.9,958.1 328.4,957.8 328.8,957.4C334.9,952.6 340.9,947.7 346.9,942.8C356.1,935.2 365.2,927.4 374.5,919.8C383.4,912.4 392.5,905.1 401.5,897.9C410.5,890.7 419.5,883.4 428.1,875.8C436.4,868.4 444.4,860.6 452.2,852.7C460.2,844.7 468.2,836.6 476.1,828.4C484.2,819.9 492.2,811.3 500.1,802.7C506.9,795.2 513.6,787.6 520.1,779.8C523.4,776.0 526.5,772.1 529.7,768.2C532.7,764.6 535.7,760.9 538.8,757.3C541.8,753.8 545.0,750.3 548.3,746.9C551.2,744.0 554.2,741.3 557.4,738.7C560.3,736.3 563.4,734.1 566.6,732.1C569.5,730.2 572.6,728.5 575.7,727.0C580.0,724.8 584.5,723.0 589.1,721.4C595.1,719.3 601.2,717.5 607.5,716.1C614.9,714.4 622.5,713.0 630.0,712.0C633.6,711.6 637.2,711.2 640.7,710.9C649.9,710.1 659.0,709.8 668.2,710.1C677.4,710.5 686.5,711.4 695.6,713.1C704.9,714.8 714.0,717.2 723.0,720.2C732.3,723.3 741.5,727.1 750.5,731.2C759.8,735.4 769.0,740.1 778.1,744.9C787.3,749.9 796.5,755.0 805.5,760.3C814.6,765.5 823.6,771.0 832.4,776.6C838.4,780.5 844.3,784.5 850.3,788.3C856.1,792.0 862.1,795.6 868.3,799.0C874.2,802.2 880.3,805.1 886.6,807.7C892.6,810.2 898.8,812.3 905.2,813.8C911.2,815.1 917.3,815.9 923.4,815.9C929.5,815.8 935.6,814.9 941.4,813.2C947.8,811.2 953.8,808.2 959.5,804.4C966.4,799.7 972.5,793.8 978.1,787.4C981.2,783.7 984.2,779.8 987.0,775.9C990.3,771.1 993.5,766.2 996.6,761.4C999.7,756.5 1002.7,751.6 1006.0,746.9C1008.9,742.6 1012.0,738.3 1015.2,734.2C1020.8,727.1 1026.8,720.4 1033.0,713.7C1038.9,707.5 1044.9,701.3 1050.7,694.9C1057.1,688.0 1063.3,680.9 1069.6,673.9C1075.8,667.0 1082.0,660.2 1088.3,653.4C1094.7,646.4 1101.0,639.3 1107.3,632.2C1113.9,624.7 1120.4,617.2 1126.8,609.5C1133.2,601.9 1139.5,594.2 1145.6,586.3C1152.3,577.6 1158.7,568.7 1165.0,559.7C1171.5,550.2 1177.8,540.6 1183.9,530.8C1190.8,519.7 1197.4,508.5 1204.0,497.2C1210.0,486.9 1215.9,476.7 1221.7,466.4C1227.0,457.1 1232.1,447.7 1237.0,438.3C1240.1,432.3 1243.1,426.4 1245.9,420.4C1249.5,412.9 1252.9,405.4 1256.2,397.8C1258.2,393.2 1260.2,388.6 1262.1,384.1C1267.0,372.7 1271.8,361.4 1276.6,350.0C1283.0,335.0 1289.5,320.0 1296.0,305.0C1302.4,290.0 1308.9,275.0 1315.4,260.0C1318.3,253.2 1321.2,246.5 1324.2,239.7C1327.2,232.7 1330.2,225.8 1333.3,218.9C1336.2,212.4 1339.1,206.1 1342.1,199.7C1345.0,193.7 1347.9,187.8 1350.9,181.9C1353.8,176.3 1356.8,170.8 1359.9,165.3C1362.7,160.5 1365.7,155.7 1368.8,151.0C1371.6,147.0 1374.5,142.9 1377.7,139.0C1380.5,135.5 1383.5,132.1 1386.8,129.0C1389.8,126.1 1393.0,123.4 1396.4,121.1C1399.3,119.1 1402.4,117.4 1405.5,116.2C1407.9,115.2 1410.4,114.5 1413.0,114.2C1414.9,113.9 1416.9,113.8 1418.9,113.9C1421.2,114.0 1423.6,114.5 1425.9,115.2C1428.5,116.0 1430.9,117.2 1433.3,118.7C1436.1,120.4 1438.7,122.6 1441.1,125.1C1443.6,127.7 1445.8,130.6 1447.8,133.8C1450.0,137.0 1451.8,140.5 1453.5,144.1C1455.5,148.4 1457.2,152.8 1458.8,157.2C1460.7,162.4 1462.3,167.7 1463.9,172.9C1465.5,178.5 1467.1,184.1 1468.6,189.6C1470.4,196.0 1472.1,202.4 1473.8,208.7C1475.3,214.3 1476.8,219.9 1478.2,225.6C1479.4,230.3 1480.6,235.1 1481.7,239.9C1483.3,246.5 1484.7,253.2 1486.0,260.0C1487.5,267.1 1488.9,274.3 1490.2,281.4C1493.3,297.4 1496.3,313.4 1499.7,329.4C1503.6,348.3 1508.0,367.1 1512.3,386.0C1514.9,397.6 1517.5,409.1 1519.9,420.7C1523.3,436.6 1526.4,452.6 1529.7,468.6C1532.7,483.8 1535.9,498.9 1539.1,514.1C1542.3,529.3 1545.5,544.4 1548.7,559.6C1551.9,575.6 1555.1,591.5 1558.3,607.5C1560.7,619.5 1563.1,631.4 1565.5,643.4C1568.0,655.6 1570.4,667.8 1572.6,680.0C1576.1,698.4 1579.2,716.9 1582.4,735.3"/>
<path transform="translate(-2.08 0.00)" d="M327.5,958.5C327.9,958.1 328.4,957.8 328.8,957.4C334.9,952.6 340.9,947.7 346.9,942.8C356.1,935.2 365.2,927.4 374.5,919.8C383.4,912.4 392.5,905.1 401.5,897.9C410.5,890.7 419.5,883.4 428.1,875.8C436.4,868.4 444.4,860.6 452.2,852.7C460.2,844.7 468.2,836.6 476.1,828.4C484.2,819.9 492.2,811.3 500.1,802.7C506.9,795.2 513.6,787.6 520.1,779.8C523.4,776.0 526.5,772.1 529.7,768.2C532.7,764.6 535.7,760.9 538.8,757.3C541.8,753.8 545.0,750.3 548.3,746.9C551.2,744.0 554.2,741.3 557.4,738.7C560.3,736.3 563.4,734.1 566.6,732.1C569.5,730.2 572.6,728.5 575.7,727.0C580.0,724.8 584.5,723.0 589.1,721.4C595.1,719.3 601.2,717.5 607.5,716.1C614.9,714.4 622.5,713.0 630.0,712.0C633.6,711.6 637.2,711.2 640.7,710.9C649.9,710.1 659.0,709.8 668.2,710.1C677.4,710.5 686.5,711.4 695.6,713.1C704.9,714.8 714.0,717.2 723.0,720.2C732.3,723.3 741.5,727.1 750.5,731.2C759.8,735.4 769.0,740.1 778.1,744.9C787.3,749.9 796.5,755.0 805.5,760.3C814.6,765.5 823.6,771.0 832.4,776.6C838.4,780.5 844.3,784.5 850.3,788.3C856.1,792.0 862.1,795.6 868.3,799.0C874.2,802.2 880.3,805.1 886.6,807.7C892.6,810.2 898.8,812.3 905.2,813.8C911.2,815.1 917.3,815.9 923.4,815.9C929.5,815.8 935.6,814.9 941.4,813.2C947.8,811.2 953.8,808.2 959.5,804.4C966.4,799.7 972.5,793.8 978.1,787.4C981.2,783.7 984.2,779.8 987.0,775.9C990.3,771.1 993.5,766.2 996.6,761.4C999.7,756.5 1002.7,751.6 1006.0,746.9C1008.9,742.6 1012.0,738.3 1015.2,734.2C1020.8,727.1 1026.8,720.4 1033.0,713.7C1038.9,707.5 1044.9,701.3 1050.7,694.9C1057.1,688.0 1063.3,680.9 1069.6,673.9C1075.8,667.0 1082.0,660.2 1088.3,653.4C1094.7,646.4 1101.0,639.3 1107.3,632.2C1113.9,624.7 1120.4,617.2 1126.8,609.5C1133.2,601.9 1139.5,594.2 1145.6,586.3C1152.3,577.6 1158.7,568.7 1165.0,559.7C1171.5,550.2 1177.8,540.6 1183.9,530.8C1190.8,519.7 1197.4,508.5 1204.0,497.2C1210.0,486.9 1215.9,476.7 1221.7,466.4C1227.0,457.1 1232.1,447.7 1237.0,438.3C1240.1,432.3 1243.1,426.4 1245.9,420.4C1249.5,412.9 1252.9,405.4 1256.2,397.8C1258.2,393.2 1260.2,388.6 1262.1,384.1C1267.0,372.7 1271.8,361.4 1276.6,350.0C1283.0,335.0 1289.5,320.0 1296.0,305.0C1302.4,290.0 1308.9,275.0 1315.4,260.0C1318.3,253.2 1321.2,246.5 1324.2,239.7C1327.2,232.7 1330.2,225.8 1333.3,218.9C1336.2,212.4 1339.1,206.1 1342.1,199.7C1345.0,193.7 1347.9,187.8 1350.9,181.9C1353.8,176.3 1356.8,170.8 1359.9,165.3C1362.7,160.5 1365.7,155.7 1368.8,151.0C1371.6,147.0 1374.5,142.9 1377.7,139.0C1380.5,135.5 1383.5,132.1 1386.8,129.0C1389.8,126.1 1393.0,123.4 1396.4,121.1C1399.3,119.1 1402.4,117.4 1405.5,116.2C1407.9,115.2 1410.4,114.5 1413.0,114.2C1414.9,113.9 1416.9,113.8 1418.9,113.9C1421.2,114.0 1423.6,114.5 1425.9,115.2C1428.5,116.0 1430.9,117.2 1433.3,118.7C1436.1,120.4 1438.7,122.6 1441.1,125.1C1443.6,127.7 1445.8,130.6 1447.8,133.8C1450.0,137.0 1451.8,140.5 1453.5,144.1C1455.5,148.4 1457.2,152.8 1458.8,157.2C1460.7,162.4 1462.3,167.7 1463.9,172.9C1465.5,178.5 1467.1,184.1 1468.6,189.6C1470.4,196.0 1472.1,202.4 1473.8,208.7C1475.3,214.3 1476.8,219.9 1478.2,225.6C1479.4,230.3 1480.6,235.1 1481.7,239.9C1483.3,246.5 1484.7,253.2 1486.0,260.0C1487.5,267.1 1488.9,274.3 1490.2,281.4C1493.3,297.4 1496.3,313.4 1499.7,329.4C1503.6,348.3 1508.0,367.1 1512.3,386.0C1514.9,397.6 1517.5,409.1 1519.9,420.7C1523.3,436.6 1526.4,452.6 1529.7,468.6C1532.7,483.8 1535.9,498.9 1539.1,514.1C1542.3,529.3 1545.5,544.4 1548.7,559.6C1551.9,575.6 1555.1,591.5 1558.3,607.5C1560.7,619.5 1563.1,631.4 1565.5,643.4C1568.0,655.6 1570.4,667.8 1572.6,680.0C1576.1,698.4 1579.2,716.9 1582.4,735.3"/>
<path transform="translate(-2.08 2.08)" d="M327.5,958.5C327.9,958.1 328.4,957.8 328.8,957.4C334.9,952.6 340.9,947.7 346.9,942.8C356.1,935.2 365.2,927.4 374.5,919.8C383.4,912.4 392.5,905.1 401.5,897.9C410.5,890.7 419.5,883.4 428.1,875.8C436.4,868.4 444.4,860.6 452.2,852.7C460.2,844.7 468.2,836.6 476.1,828.4C484.2,819.9 492.2,811.3 500.1,802.7C506.9,795.2 513.6,787.6 520.1,779.8C523.4,776.0 526.5,772.1 529.7,768.2C532.7,764.6 535.7,760.9 538.8,757.3C541.8,753.8 545.0,750.3 548.3,746.9C551.2,744.0 554.2,741.3 557.4,738.7C560.3,736.3 563.4,734.1 566.6,732.1C569.5,730.2 572.6,728.5 575.7,727.0C580.0,724.8 584.5,723.0 589.1,721.4C595.1,719.3 601.2,717.5 607.5,716.1C614.9,714.4 622.5,713.0 630.0,712.0C633.6,711.6 637.2,711.2 640.7,710.9C649.9,710.1 659.0,709.8 668.2,710.1C677.4,710.5 686.5,711.4 695.6,713.1C704.9,714.8 714.0,717.2 723.0,720.2C732.3,723.3 741.5,727.1 750.5,731.2C759.8,735.4 769.0,740.1 778.1,744.9C787.3,749.9 796.5,755.0 805.5,760.3C814.6,765.5 823.6,771.0 832.4,776.6C838.4,780.5 844.3,784.5 850.3,788.3C856.1,792.0 862.1,795.6 868.3,799.0C874.2,802.2 880.3,805.1 886.6,807.7C892.6,810.2 898.8,812.3 905.2,813.8C911.2,815.1 917.3,815.9 923.4,815.9C929.5,815.8 935.6,814.9 941.4,813.2C947.8,811.2 953.8,808.2 959.5,804.4C966.4,799.7 972.5,793.8 978.1,787.4C981.2,783.7 984.2,779.8 987.0,775.9C990.3,771.1 993.5,766.2 996.6,761.4C999.7,756.5 1002.7,751.6 1006.0,746.9C1008.9,742.6 1012.0,738.3 1015.2,734.2C1020.8,727.1 1026.8,720.4 1033.0,713.7C1038.9,707.5 1044.9,701.3 1050.7,694.9C1057.1,688.0 1063.3,680.9 1069.6,673.9C1075.8,667.0 1082.0,660.2 1088.3,653.4C1094.7,646.4 1101.0,639.3 1107.3,632.2C1113.9,624.7 1120.4,617.2 1126.8,609.5C1133.2,601.9 1139.5,594.2 1145.6,586.3C1152.3,577.6 1158.7,568.7 1165.0,559.7C1171.5,550.2 1177.8,540.6 1183.9,530.8C1190.8,519.7 1197.4,508.5 1204.0,497.2C1210.0,486.9 1215.9,476.7 1221.7,466.4C1227.0,457.1 1232.1,447.7 1237.0,438.3C1240.1,432.3 1243.1,426.4 1245.9,420.4C1249.5,412.9 1252.9,405.4 1256.2,397.8C1258.2,393.2 1260.2,388.6 1262.1,384.1C1267.0,372.7 1271.8,361.4 1276.6,350.0C1283.0,335.0 1289.5,320.0 1296.0,305.0C1302.4,290.0 1308.9,275.0 1315.4,260.0C1318.3,253.2 1321.2,246.5 1324.2,239.7C1327.2,232.7 1330.2,225.8 1333.3,218.9C1336.2,212.4 1339.1,206.1 1342.1,199.7C1345.0,193.7 1347.9,187.8 1350.9,181.9C1353.8,176.3 1356.8,170.8 1359.9,165.3C1362.7,160.5 1365.7,155.7 1368.8,151.0C1371.6,147.0 1374.5,142.9 1377.7,139.0C1380.5,135.5 1383.5,132.1 1386.8,129.0C1389.8,126.1 1393.0,123.4 1396.4,121.1C1399.3,119.1 1402.4,117.4 1405.5,116.2C1407.9,115.2 1410.4,114.5 1413.0,114.2C1414.9,113.9 1416.9,113.8 1418.9,113.9C1421.2,114.0 1423.6,114.5 1425.9,115.2C1428.5,116.0 1430.9,117.2 1433.3,118.7C1436.1,120.4 1438.7,122.6 1441.1,125.1C1443.6,127.7 1445.8,130.6 1447.8,133.8C1450.0,137.0 1451.8,140.5 1453.5,144.1C1455.5,148.4 1457.2,152.8 1458.8,157.2C1460.7,162.4 1462.3,167.7 1463.9,172.9C1465.5,178.5 1467.1,184.1 1468.6,189.6C1470.4,196.0 1472.1,202.4 1473.8,208.7C1475.3,214.3 1476.8,219.9 1478.2,225.6C1479.4,230.3 1480.6,235.1 1481.7,239.9C1483.3,246.5 1484.7,253.2 1486.0,260.0C1487.5,267.1 1488.9,274.3 1490.2,281.4C1493.3,297.4 1496.3,313.4 1499.7,329.4C1503.6,348.3 1508.0,367.1 1512.3,386.0C1514.9,397.6 1517.5,409.1 1519.9,420.7C1523.3,436.6 1526.4,452.6 1529.7,468.6C1532.7,483.8 1535.9,498.9 1539.1,514.1C1542.3,529.3 1545.5,544.4 1548.7,559.6C1551.9,575.6 1555.1,591.5 1558.3,607.5C1560.7,619.5 1563.1,631.4 1565.5,643.4C1568.0,655.6 1570.4,667.8 1572.6,680.0C1576.1,698.4 1579.2,716.9 1582.4,735.3"/>
<path transform="translate(0.00 -2.08)" d="M327.5,958.5C327.9,958.1 328.4,957.8 328.8,957.4C334.9,952.6 340.9,947.7 346.9,942.8C356.1,935.2 365.2,927.4 374.5,919.8C383.4,912.4 392.5,905.1 401.5,897.9C410.5,890.7 419.5,883.4 428.1,875.8C436.4,868.4 444.4,860.6 452.2,852.7C460.2,844.7 468.2,836.6 476.1,828.4C484.2,819.9 492.2,811.3 500.1,802.7C506.9,795.2 513.6,787.6 520.1,779.8C523.4,776.0 526.5,772.1 529.7,768.2C532.7,764.6 535.7,760.9 538.8,757.3C541.8,753.8 545.0,750.3 548.3,746.9C551.2,744.0 554.2,741.3 557.4,738.7C560.3,736.3 563.4,734.1 566.6,732.1C569.5,730.2 572.6,728.5 575.7,727.0C580.0,724.8 584.5,723.0 589.1,721.4C595.1,719.3 601.2,717.5 607.5,716.1C614.9,714.4 622.5,713.0 630.0,712.0C633.6,711.6 637.2,711.2 640.7,710.9C649.9,710.1 659.0,709.8 668.2,710.1C677.4,710.5 686.5,711.4 695.6,713.1C704.9,714.8 714.0,717.2 723.0,720.2C732.3,723.3 741.5,727.1 750.5,731.2C759.8,735.4 769.0,740.1 778.1,744.9C787.3,749.9 796.5,755.0 805.5,760.3C814.6,765.5 823.6,771.0 832.4,776.6C838.4,780.5 844.3,784.5 850.3,788.3C856.1,792.0 862.1,795.6 868.3,799.0C874.2,802.2 880.3,805.1 886.6,807.7C892.6,810.2 898.8,812.3 905.2,813.8C911.2,815.1 917.3,815.9 923.4,815.9C929.5,815.8 935.6,814.9 941.4,813.2C947.8,811.2 953.8,808.2 959.5,804.4C966.4,799.7 972.5,793.8 978.1,787.4C981.2,783.7 984.2,779.8 987.0,775.9C990.3,771.1 993.5,766.2 996.6,761.4C999.7,756.5 1002.7,751.6 1006.0,746.9C1008.9,742.6 1012.0,738.3 1015.2,734.2C1020.8,727.1 1026.8,720.4 1033.0,713.7C1038.9,707.5 1044.9,701.3 1050.7,694.9C1057.1,688.0 1063.3,680.9 1069.6,673.9C1075.8,667.0 1082.0,660.2 1088.3,653.4C1094.7,646.4 1101.0,639.3 1107.3,632.2C1113.9,624.7 1120.4,617.2 1126.8,609.5C1133.2,601.9 1139.5,594.2 1145.6,586.3C1152.3,577.6 1158.7,568.7 1165.0,559.7C1171.5,550.2 1177.8,540.6 1183.9,530.8C1190.8,519.7 1197.4,508.5 1204.0,497.2C1210.0,486.9 1215.9,476.7 1221.7,466.4C1227.0,457.1 1232.1,447.7 1237.0,438.3C1240.1,432.3 1243.1,426.4 1245.9,420.4C1249.5,412.9 1252.9,405.4 1256.2,397.8C1258.2,393.2 1260.2,388.6 1262.1,384.1C1267.0,372.7 1271.8,361.4 1276.6,350.0C1283.0,335.0 1289.5,320.0 1296.0,305.0C1302.4,290.0 1308.9,275.0 1315.4,260.0C1318.3,253.2 1321.2,246.5 1324.2,239.7C1327.2,232.7 1330.2,225.8 1333.3,218.9C1336.2,212.4 1339.1,206.1 1342.1,199.7C1345.0,193.7 1347.9,187.8 1350.9,181.9C1353.8,176.3 1356.8,170.8 1359.9,165.3C1362.7,160.5 1365.7,155.7 1368.8,151.0C1371.6,147.0 1374.5,142.9 1377.7,139.0C1380.5,135.5 1383.5,132.1 1386.8,129.0C1389.8,126.1 1393.0,123.4 1396.4,121.1C1399.3,119.1 1402.4,117.4 1405.5,116.2C1407.9,115.2 1410.4,114.5 1413.0,114.2C1414.9,113.9 1416.9,113.8 1418.9,113.9C1421.2,114.0 1423.6,114.5 1425.9,115.2C1428.5,116.0 1430.9,117.2 1433.3,118.7C1436.1,120.4 1438.7,122.6 1441.1,125.1C1443.6,127.7 1445.8,130.6 1447.8,133.8C1450.0,137.0 1451.8,140.5 1453.5,144.1C1455.5,148.4 1457.2,152.8 1458.8,157.2C1460.7,162.4 1462.3,167.7 1463.9,172.9C1465.5,178.5 1467.1,184.1 1468.6,189.6C1470.4,196.0 1472.1,202.4 1473.8,208.7C1475.3,214.3 1476.8,219.9 1478.2,225.6C1479.4,230.3 1480.6,235.1 1481.7,239.9C1483.3,246.5 1484.7,253.2 1486.0,260.0C1487.5,267.1 1488.9,274.3 1490.2,281.4C1493.3,297.4 1496.3,313.4 1499.7,329.4C1503.6,348.3 1508.0,367.1 1512.3,386.0C1514.9,397.6 1517.5,409.1 1519.9,420.7C1523.3,436.6 1526.4,452.6 1529.7,468.6C1532.7,483.8 1535.9,498.9 1539.1,514.1C1542.3,529.3 1545.5,544.4 1548.7,559.6C1551.9,575.6 1555.1,591.5 1558.3,607.5C1560.7,619.5 1563.1,631.4 1565.5,643.4C1568.0,655.6 1570.4,667.8 1572.6,680.0C1576.1,698.4 1579.2,716.9 1582.4,735.3"/>
<path transform="translate(0.00 0.00)" d="M327.5,958.5C327.9,958.1 328.4,957.8 328.8,957.4C334.9,952.6 340.9,947.7 346.9,942.8C356.1,935.2 365.2,927.4 374.5,919.8C383.4,912.4 392.5,905.1 401.5,897.9C410.5,890.7 419.5,883.4 428.1,875.8C436.4,868.4 444.4,860.6 452.2,852.7C460.2,844.7 468.2,836.6 476.1,828.4C484.2,819.9 492.2,811.3 500.1,802.7C506.9,795.2 513.6,787.6 520.1,779.8C523.4,776.0 526.5,772.1 529.7,768.2C532.7,764.6 535.7,760.9 538.8,757.3C541.8,753.8 545.0,750.3 548.3,746.9C551.2,744.0 554.2,741.3 557.4,738.7C560.3,736.3 563.4,734.1 566.6,732.1C569.5,730.2 572.6,728.5 575.7,727.0C580.0,724.8 584.5,723.0 589.1,721.4C595.1,719.3 601.2,717.5 607.5,716.1C614.9,714.4 622.5,713.0 630.0,712.0C633.6,711.6 637.2,711.2 640.7,710.9C649.9,710.1 659.0,709.8 668.2,710.1C677.4,710.5 686.5,711.4 695.6,713.1C704.9,714.8 714.0,717.2 723.0,720.2C732.3,723.3 741.5,727.1 750.5,731.2C759.8,735.4 769.0,740.1 778.1,744.9C787.3,749.9 796.5,755.0 805.5,760.3C814.6,765.5 823.6,771.0 832.4,776.6C838.4,780.5 844.3,784.5 850.3,788.3C856.1,792.0 862.1,795.6 868.3,799.0C874.2,802.2 880.3,805.1 886.6,807.7C892.6,810.2 898.8,812.3 905.2,813.8C911.2,815.1 917.3,815.9 923.4,815.9C929.5,815.8 935.6,814.9 941.4,813.2C947.8,811.2 953.8,808.2 959.5,804.4C966.4,799.7 972.5,793.8 978.1,787.4C981.2,783.7 984.2,779.8 987.0,775.9C990.3,771.1 993.5,766.2 996.6,761.4C999.7,756.5 1002.7,751.6 1006.0,746.9C1008.9,742.6 1012.0,738.3 1015.2,734.2C1020.8,727.1 1026.8,720.4 1033.0,713.7C1038.9,707.5 1044.9,701.3 1050.7,694.9C1057.1,688.0 1063.3,680.9 1069.6,673.9C1075.8,667.0 1082.0,660.2 1088.3,653.4C1094.7,646.4 1101.0,639.3 1107.3,632.2C1113.9,624.7 1120.4,617.2 1126.8,609.5C1133.2,601.9 1139.5,594.2 1145.6,586.3C1152.3,577.6 1158.7,568.7 1165.0,559.7C1171.5,550.2 1177.8,540.6 1183.9,530.8C1190.8,519.7 1197.4,508.5 1204.0,497.2C1210.0,486.9 1215.9,476.7 1221.7,466.4C1227.0,457.1 1232.1,447.7 1237.0,438.3C1240.1,432.3 1243.1,426.4 1245.9,420.4C1249.5,412.9 1252.9,405.4 1256.2,397.8C1258.2,393.2 1260.2,388.6 1262.1,384.1C1267.0,372.7 1271.8,361.4 1276.6,350.0C1283.0,335.0 1289.5,320.0 1296.0,305.0C1302.4,290.0 1308.9,275.0 1315.4,260.0C1318.3,253.2 1321.2,246.5 1324.2,239.7C1327.2,232.7 1330.2,225.8 1333.3,218.9C1336.2,212.4 1339.1,206.1 1342.1,199.7C1345.0,193.7 1347.9,187.8 1350.9,181.9C1353.8,176.3 1356.8,170.8 1359.9,165.3C1362.7,160.5 1365.7,155.7 1368.8,151.0C1371.6,147.0 1374.5,142.9 1377.7,139.0C1380.5,135.5 1383.5,132.1 1386.8,129.0C1389.8,126.1 1393.0,123.4 1396.4,121.1C1399.3,119.1 1402.4,117.4 1405.5,116.2C1407.9,115.2 1410.4,114.5 1413.0,114.2C1414.9,113.9 1416.9,113.8 1418.9,113.9C1421.2,114.0 1423.6,114.5 1425.9,115.2C1428.5,116.0 1430.9,117.2 1433.3,118.7C1436.1,120.4 1438.7,122.6 1441.1,125.1C1443.6,127.7 1445.8,130.6 1447.8,133.8C1450.0,137.0 1451.8,140.5 1453.5,144.1C1455.5,148.4 1457.2,152.8 1458.8,157.2C1460.7,162.4 1462.3,167.7 1463.9,172.9C1465.5,178.5 1467.1,184.1 1468.6,189.6C1470.4,196.0 1472.1,202.4 1473.8,208.7C1475.3,214.3 1476.8,219.9 1478.2,225.6C1479.4,230.3 1480.6,235.1 1481.7,239.9C1483.3,246.5 1484.7,253.2 1486.0,260.0C1487.5,267.1 1488.9,274.3 1490.2,281.4C1493.3,297.4 1496.3,313.4 1499.7,329.4C1503.6,348.3 1508.0,367.1 1512.3,386.0C1514.9,397.6 1517.5,409.1 1519.9,420.7C1523.3,436.6 1526.4,452.6 1529.7,468.6C1532.7,483.8 1535.9,498.9 1539.1,514.1C1542.3,529.3 1545.5,544.4 1548.7,559.6C1551.9,575.6 1555.1,591.5 1558.3,607.5C1560.7,619.5 1563.1,631.4 1565.5,643.4C1568.0,655.6 1570.4,667.8 1572.6,680.0C1576.1,698.4 1579.2,716.9 1582.4,735.3"/>
<path transform="translate(0.00 2.08)" d="M327.5,958.5C327.9,958.1 328.4,957.8 328.8,957.4C334.9,952.6 340.9,947.7 346.9,942.8C356.1,935.2 365.2,927.4 374.5,919.8C383.4,912.4 392.5,905.1 401.5,897.9C410.5,890.7 419.5,883.4 428.1,875.8C436.4,868.4 444.4,860.6 452.2,852.7C460.2,844.7 468.2,836.6 476.1,828.4C484.2,819.9 492.2,811.3 500.1,802.7C506.9,795.2 513.6,787.6 520.1,779.8C523.4,776.0 526.5,772.1 529.7,768.2C532.7,764.6 535.7,760.9 538.8,757.3C541.8,753.8 545.0,750.3 548.3,746.9C551.2,744.0 554.2,741.3 557.4,738.7C560.3,736.3 563.4,734.1 566.6,732.1C569.5,730.2 572.6,728.5 575.7,727.0C580.0,724.8 584.5,723.0 589.1,721.4C595.1,719.3 601.2,717.5 607.5,716.1C614.9,714.4 622.5,713.0 630.0,712.0C633.6,711.6 637.2,711.2 640.7,710.9C649.9,710.1 659.0,709.8 668.2,710.1C677.4,710.5 686.5,711.4 695.6,713.1C704.9,714.8 714.0,717.2 723.0,720.2C732.3,723.3 741.5,727.1 750.5,731.2C759.8,735.4 769.0,740.1 778.1,744.9C787.3,749.9 796.5,755.0 805.5,760.3C814.6,765.5 823.6,771.0 832.4,776.6C838.4,780.5 844.3,784.5 850.3,788.3C856.1,792.0 862.1,795.6 868.3,799.0C874.2,802.2 880.3,805.1 886.6,807.7C892.6,810.2 898.8,812.3 905.2,813.8C911.2,815.1 917.3,815.9 923.4,815.9C929.5,815.8 935.6,814.9 941.4,813.2C947.8,811.2 953.8,808.2 959.5,804.4C966.4,799.7 972.5,793.8 978.1,787.4C981.2,783.7 984.2,779.8 987.0,775.9C990.3,771.1 993.5,766.2 996.6,761.4C999.7,756.5 1002.7,751.6 1006.0,746.9C1008.9,742.6 1012.0,738.3 1015.2,734.2C1020.8,727.1 1026.8,720.4 1033.0,713.7C1038.9,707.5 1044.9,701.3 1050.7,694.9C1057.1,688.0 1063.3,680.9 1069.6,673.9C1075.8,667.0 1082.0,660.2 1088.3,653.4C1094.7,646.4 1101.0,639.3 1107.3,632.2C1113.9,624.7 1120.4,617.2 1126.8,609.5C1133.2,601.9 1139.5,594.2 1145.6,586.3C1152.3,577.6 1158.7,568.7 1165.0,559.7C1171.5,550.2 1177.8,540.6 1183.9,530.8C1190.8,519.7 1197.4,508.5 1204.0,497.2C1210.0,486.9 1215.9,476.7 1221.7,466.4C1227.0,457.1 1232.1,447.7 1237.0,438.3C1240.1,432.3 1243.1,426.4 1245.9,420.4C1249.5,412.9 1252.9,405.4 1256.2,397.8C1258.2,393.2 1260.2,388.6 1262.1,384.1C1267.0,372.7 1271.8,361.4 1276.6,350.0C1283.0,335.0 1289.5,320.0 1296.0,305.0C1302.4,290.0 1308.9,275.0 1315.4,260.0C1318.3,253.2 1321.2,246.5 1324.2,239.7C1327.2,232.7 1330.2,225.8 1333.3,218.9C1336.2,212.4 1339.1,206.1 1342.1,199.7C1345.0,193.7 1347.9,187.8 1350.9,181.9C1353.8,176.3 1356.8,170.8 1359.9,165.3C1362.7,160.5 1365.7,155.7 1368.8,151.0C1371.6,147.0 1374.5,142.9 1377.7,139.0C1380.5,135.5 1383.5,132.1 1386.8,129.0C1389.8,126.1 1393.0,123.4 1396.4,121.1C1399.3,119.1 1402.4,117.4 1405.5,116.2C1407.9,115.2 1410.4,114.5 1413.0,114.2C1414.9,113.9 1416.9,113.8 1418.9,113.9C1421.2,114.0 1423.6,114.5 1425.9,115.2C1428.5,116.0 1430.9,117.2 1433.3,118.7C1436.1,120.4 1438.7,122.6 1441.1,125.1C1443.6,127.7 1445.8,130.6 1447.8,133.8C1450.0,137.0 1451.8,140.5 1453.5,144.1C1455.5,148.4 1457.2,152.8 1458.8,157.2C1460.7,162.4 1462.3,167.7 1463.9,172.9C1465.5,178.5 1467.1,184.1 1468.6,189.6C1470.4,196.0 1472.1,202.4 1473.8,208.7C1475.3,214.3 1476.8,219.9 1478.2,225.6C1479.4,230.3 1480.6,235.1 1481.7,239.9C1483.3,246.5 1484.7,253.2 1486.0,260.0C1487.5,267.1 1488.9,274.3 1490.2,281.4C1493.3,297.4 1496.3,313.4 1499.7,329.4C1503.6,348.3 1508.0,367.1 1512.3,386.0C1514.9,397.6 1517.5,409.1 1519.9,420.7C1523.3,436.6 1526.4,452.6 1529.7,468.6C1532.7,483.8 1535.9,498.9 1539.1,514.1C1542.3,529.3 1545.5,544.4 1548.7,559.6C1551.9,575.6 1555.1,591.5 1558.3,607.5C1560.7,619.5 1563.1,631.4 1565.5,643.4C1568.0,655.6 1570.4,667.8 1572.6,680.0C1576.1,698.4 1579.2,716.9 1582.4,735.3"/>
<path transform="translate(2.08 -2.08)" d="M327.5,958.5C327.9,958.1 328.4,957.8 328.8,957.4C334.9,952.6 340.9,947.7 346.9,942.8C356.1,935.2 365.2,927.4 374.5,919.8C383.4,912.4 392.5,905.1 401.5,897.9C410.5,890.7 419.5,883.4 428.1,875.8C436.4,868.4 444.4,860.6 452.2,852.7C460.2,844.7 468.2,836.6 476.1,828.4C484.2,819.9 492.2,811.3 500.1,802.7C506.9,795.2 513.6,787.6 520.1,779.8C523.4,776.0 526.5,772.1 529.7,768.2C532.7,764.6 535.7,760.9 538.8,757.3C541.8,753.8 545.0,750.3 548.3,746.9C551.2,744.0 554.2,741.3 557.4,738.7C560.3,736.3 563.4,734.1 566.6,732.1C569.5,730.2 572.6,728.5 575.7,727.0C580.0,724.8 584.5,723.0 589.1,721.4C595.1,719.3 601.2,717.5 607.5,716.1C614.9,714.4 622.5,713.0 630.0,712.0C633.6,711.6 637.2,711.2 640.7,710.9C649.9,710.1 659.0,709.8 668.2,710.1C677.4,710.5 686.5,711.4 695.6,713.1C704.9,714.8 714.0,717.2 723.0,720.2C732.3,723.3 741.5,727.1 750.5,731.2C759.8,735.4 769.0,740.1 778.1,744.9C787.3,749.9 796.5,755.0 805.5,760.3C814.6,765.5 823.6,771.0 832.4,776.6C838.4,780.5 844.3,784.5 850.3,788.3C856.1,792.0 862.1,795.6 868.3,799.0C874.2,802.2 880.3,805.1 886.6,807.7C892.6,810.2 898.8,812.3 905.2,813.8C911.2,815.1 917.3,815.9 923.4,815.9C929.5,815.8 935.6,814.9 941.4,813.2C947.8,811.2 953.8,808.2 959.5,804.4C966.4,799.7 972.5,793.8 978.1,787.4C981.2,783.7 984.2,779.8 987.0,775.9C990.3,771.1 993.5,766.2 996.6,761.4C999.7,756.5 1002.7,751.6 1006.0,746.9C1008.9,742.6 1012.0,738.3 1015.2,734.2C1020.8,727.1 1026.8,720.4 1033.0,713.7C1038.9,707.5 1044.9,701.3 1050.7,694.9C1057.1,688.0 1063.3,680.9 1069.6,673.9C1075.8,667.0 1082.0,660.2 1088.3,653.4C1094.7,646.4 1101.0,639.3 1107.3,632.2C1113.9,624.7 1120.4,617.2 1126.8,609.5C1133.2,601.9 1139.5,594.2 1145.6,586.3C1152.3,577.6 1158.7,568.7 1165.0,559.7C1171.5,550.2 1177.8,540.6 1183.9,530.8C1190.8,519.7 1197.4,508.5 1204.0,497.2C1210.0,486.9 1215.9,476.7 1221.7,466.4C1227.0,457.1 1232.1,447.7 1237.0,438.3C1240.1,432.3 1243.1,426.4 1245.9,420.4C1249.5,412.9 1252.9,405.4 1256.2,397.8C1258.2,393.2 1260.2,388.6 1262.1,384.1C1267.0,372.7 1271.8,361.4 1276.6,350.0C1283.0,335.0 1289.5,320.0 1296.0,305.0C1302.4,290.0 1308.9,275.0 1315.4,260.0C1318.3,253.2 1321.2,246.5 1324.2,239.7C1327.2,232.7 1330.2,225.8 1333.3,218.9C1336.2,212.4 1339.1,206.1 1342.1,199.7C1345.0,193.7 1347.9,187.8 1350.9,181.9C1353.8,176.3 1356.8,170.8 1359.9,165.3C1362.7,160.5 1365.7,155.7 1368.8,151.0C1371.6,147.0 1374.5,142.9 1377.7,139.0C1380.5,135.5 1383.5,132.1 1386.8,129.0C1389.8,126.1 1393.0,123.4 1396.4,121.1C1399.3,119.1 1402.4,117.4 1405.5,116.2C1407.9,115.2 1410.4,114.5 1413.0,114.2C1414.9,113.9 1416.9,113.8 1418.9,113.9C1421.2,114.0 1423.6,114.5 1425.9,115.2C1428.5,116.0 1430.9,117.2 1433.3,118.7C1436.1,120.4 1438.7,122.6 1441.1,125.1C1443.6,127.7 1445.8,130.6 1447.8,133.8C1450.0,137.0 1451.8,140.5 1453.5,144.1C1455.5,148.4 1457.2,152.8 1458.8,157.2C1460.7,162.4 1462.3,167.7 1463.9,172.9C1465.5,178.5 1467.1,184.1 1468.6,189.6C1470.4,196.0 1472.1,202.4 1473.8,208.7C1475.3,214.3 1476.8,219.9 1478.2,225.6C1479.4,230.3 1480.6,235.1 1481.7,239.9C1483.3,246.5 1484.7,253.2 1486.0,260.0C1487.5,267.1 1488.9,274.3 1490.2,281.4C1493.3,297.4 1496.3,313.4 1499.7,329.4C1503.6,348.3 1508.0,367.1 1512.3,386.0C1514.9,397.6 1517.5,409.1 1519.9,420.7C1523.3,436.6 1526.4,452.6 1529.7,468.6C1532.7,483.8 1535.9,498.9 1539.1,514.1C1542.3,529.3 1545.5,544.4 1548.7,559.6C1551.9,575.6 1555.1,591.5 1558.3,607.5C1560.7,619.5 1563.1,631.4 1565.5,643.4C1568.0,655.6 1570.4,667.8 1572.6,680.0C1576.1,698.4 1579.2,716.9 1582.4,735.3"/>
<path transform="translate(2.08 0.00)" d="M327.5,958.5C327.9,958.1 328.4,957.8 328.8,957.4C334.9,952.6 340.9,947.7 346.9,942.8C356.1,935.2 365.2,927.4 374.5,919.8C383.4,912.4 392.5,905.1 401.5,897.9C410.5,890.7 419.5,883.4 428.1,875.8C436.4,868.4 444.4,860.6 452.2,852.7C460.2,844.7 468.2,836.6 476.1,828.4C484.2,819.9 492.2,811.3 500.1,802.7C506.9,795.2 513.6,787.6 520.1,779.8C523.4,776.0 526.5,772.1 529.7,768.2C532.7,764.6 535.7,760.9 538.8,757.3C541.8,753.8 545.0,750.3 548.3,746.9C551.2,744.0 554.2,741.3 557.4,738.7C560.3,736.3 563.4,734.1 566.6,732.1C569.5,730.2 572.6,728.5 575.7,727.0C580.0,724.8 584.5,723.0 589.1,721.4C595.1,719.3 601.2,717.5 607.5,716.1C614.9,714.4 622.5,713.0 630.0,712.0C633.6,711.6 637.2,711.2 640.7,710.9C649.9,710.1 659.0,709.8 668.2,710.1C677.4,710.5 686.5,711.4 695.6,713.1C704.9,714.8 714.0,717.2 723.0,720.2C732.3,723.3 741.5,727.1 750.5,731.2C759.8,735.4 769.0,740.1 778.1,744.9C787.3,749.9 796.5,755.0 805.5,760.3C814.6,765.5 823.6,771.0 832.4,776.6C838.4,780.5 844.3,784.5 850.3,788.3C856.1,792.0 862.1,795.6 868.3,799.0C874.2,802.2 880.3,805.1 886.6,807.7C892.6,810.2 898.8,812.3 905.2,813.8C911.2,815.1 917.3,815.9 923.4,815.9C929.5,815.8 935.6,814.9 941.4,813.2C947.8,811.2 953.8,808.2 959.5,804.4C966.4,799.7 972.5,793.8 978.1,787.4C981.2,783.7 984.2,779.8 987.0,775.9C990.3,771.1 993.5,766.2 996.6,761.4C999.7,756.5 1002.7,751.6 1006.0,746.9C1008.9,742.6 1012.0,738.3 1015.2,734.2C1020.8,727.1 1026.8,720.4 1033.0,713.7C1038.9,707.5 1044.9,701.3 1050.7,694.9C1057.1,688.0 1063.3,680.9 1069.6,673.9C1075.8,667.0 1082.0,660.2 1088.3,653.4C1094.7,646.4 1101.0,639.3 1107.3,632.2C1113.9,624.7 1120.4,617.2 1126.8,609.5C1133.2,601.9 1139.5,594.2 1145.6,586.3C1152.3,577.6 1158.7,568.7 1165.0,559.7C1171.5,550.2 1177.8,540.6 1183.9,530.8C1190.8,519.7 1197.4,508.5 1204.0,497.2C1210.0,486.9 1215.9,476.7 1221.7,466.4C1227.0,457.1 1232.1,447.7 1237.0,438.3C1240.1,432.3 1243.1,426.4 1245.9,420.4C1249.5,412.9 1252.9,405.4 1256.2,397.8C1258.2,393.2 1260.2,388.6 1262.1,384.1C1267.0,372.7 1271.8,361.4 1276.6,350.0C1283.0,335.0 1289.5,320.0 1296.0,305.0C1302.4,290.0 1308.9,275.0 1315.4,260.0C1318.3,253.2 1321.2,246.5 1324.2,239.7C1327.2,232.7 1330.2,225.8 1333.3,218.9C1336.2,212.4 1339.1,206.1 1342.1,199.7C1345.0,193.7 1347.9,187.8 1350.9,181.9C1353.8,176.3 1356.8,170.8 1359.9,165.3C1362.7,160.5 1365.7,155.7 1368.8,151.0C1371.6,147.0 1374.5,142.9 1377.7,139.0C1380.5,135.5 1383.5,132.1 1386.8,129.0C1389.8,126.1 1393.0,123.4 1396.4,121.1C1399.3,119.1 1402.4,117.4 1405.5,116.2C1407.9,115.2 1410.4,114.5 1413.0,114.2C1414.9,113.9 1416.9,113.8 1418.9,113.9C1421.2,114.0 1423.6,114.5 1425.9,115.2C1428.5,116.0 1430.9,117.2 1433.3,118.7C1436.1,120.4 1438.7,122.6 1441.1,125.1C1443.6,127.7 1445.8,130.6 1447.8,133.8C1450.0,137.0 1451.8,140.5 1453.5,144.1C1455.5,148.4 1457.2,152.8 1458.8,157.2C1460.7,162.4 1462.3,167.7 1463.9,172.9C1465.5,178.5 1467.1,184.1 1468.6,189.6C1470.4,196.0 1472.1,202.4 1473.8,208.7C1475.3,214.3 1476.8,219.9 1478.2,225.6C1479.4,230.3 1480.6,235.1 1481.7,239.9C1483.3,246.5 1484.7,253.2 1486.0,260.0C1487.5,267.1 1488.9,274.3 1490.2,281.4C1493.3,297.4 1496.3,313.4 1499.7,329.4C1503.6,348.3 1508.0,367.1 1512.3,386.0C1514.9,397.6 1517.5,409.1 1519.9,420.7C1523.3,436.6 1526.4,452.6 1529.7,468.6C1532.7,483.8 1535.9,498.9 1539.1,514.1C1542.3,529.3 1545.5,544.4 1548.7,559.6C1551.9,575.6 1555.1,591.5 1558.3,607.5C1560.7,619.5 1563.1,631.4 1565.5,643.4C1568.0,655.6 1570.4,667.8 1572.6,680.0C1576.1,698.4 1579.2,716.9 1582.4,735.3"/>
<path transform="translate(2.08 2.08)" d="M327.5,958.5C327.9,958.1 328.4,957.8 328.8,957.4C334.9,952.6 340.9,947.7 346.9,942.8C356.1,935.2 365.2,927.4 374.5,919.8C383.4,912.4 392.5,905.1 401.5,897.9C410.5,890.7 419.5,883.4 428.1,875.8C436.4,868.4 444.4,860.6 452.2,852.7C460.2,844.7 468.2,836.6 476.1,828.4C484.2,819.9 492.2,811.3 500.1,802.7C506.9,795.2 513.6,787.6 520.1,779.8C523.4,776.0 526.5,772.1 529.7,768.2C532.7,764.6 535.7,760.9 538.8,757.3C541.8,753.8 545.0,750.3 548.3,746.9C551.2,744.0 554.2,741.3 557.4,738.7C560.3,736.3 563.4,734.1 566.6,732.1C569.5,730.2 572.6,728.5 575.7,727.0C580.0,724.8 584.5,723.0 589.1,721.4C595.1,719.3 601.2,717.5 607.5,716.1C614.9,714.4 622.5,713.0 630.0,712.0C633.6,711.6 637.2,711.2 640.7,710.9C649.9,710.1 659.0,709.8 668.2,710.1C677.4,710.5 686.5,711.4 695.6,713.1C704.9,714.8 714.0,717.2 723.0,720.2C732.3,723.3 741.5,727.1 750.5,731.2C759.8,735.4 769.0,740.1 778.1,744.9C787.3,749.9 796.5,755.0 805.5,760.3C814.6,765.5 823.6,771.0 832.4,776.6C838.4,780.5 844.3,784.5 850.3,788.3C856.1,792.0 862.1,795.6 868.3,799.0C874.2,802.2 880.3,805.1 886.6,807.7C892.6,810.2 898.8,812.3 905.2,813.8C911.2,815.1 917.3,815.9 923.4,815.9C929.5,815.8 935.6,814.9 941.4,813.2C947.8,811.2 953.8,808.2 959.5,804.4C966.4,799.7 972.5,793.8 978.1,787.4C981.2,783.7 984.2,779.8 987.0,775.9C990.3,771.1 993.5,766.2 996.6,761.4C999.7,756.5 1002.7,751.6 1006.0,746.9C1008.9,742.6 1012.0,738.3 1015.2,734.2C1020.8,727.1 1026.8,720.4 1033.0,713.7C1038.9,707.5 1044.9,701.3 1050.7,694.9C1057.1,688.0 1063.3,680.9 1069.6,673.9C1075.8,667.0 1082.0,660.2 1088.3,653.4C1094.7,646.4 1101.0,639.3 1107.3,632.2C1113.9,624.7 1120.4,617.2 1126.8,609.5C1133.2,601.9 1139.5,594.2 1145.6,586.3C1152.3,577.6 1158.7,568.7 1165.0,559.7C1171.5,550.2 1177.8,540.6 1183.9,530.8C1190.8,519.7 1197.4,508.5 1204.0,497.2C1210.0,486.9 1215.9,476.7 1221.7,466.4C1227.0,457.1 1232.1,447.7 1237.0,438.3C1240.1,432.3 1243.1,426.4 1245.9,420.4C1249.5,412.9 1252.9,405.4 1256.2,397.8C1258.2,393.2 1260.2,388.6 1262.1,384.1C1267.0,372.7 1271.8,361.4 1276.6,350.0C1283.0,335.0 1289.5,320.0 1296.0,305.0C1302.4,290.0 1308.9,275.0 1315.4,260.0C1318.3,253.2 1321.2,246.5 1324.2,239.7C1327.2,232.7 1330.2,225.8 1333.3,218.9C1336.2,212.4 1339.1,206.1 1342.1,199.7C1345.0,193.7 1347.9,187.8 1350.9,181.9C1353.8,176.3 1356.8,170.8 1359.9,165.3C1362.7,160.5 1365.7,155.7 1368.8,151.0C1371.6,147.0 1374.5,142.9 1377.7,139.0C1380.5,135.5 1383.5,132.1 1386.8,129.0C1389.8,126.1 1393.0,123.4 1396.4,121.1C1399.3,119.1 1402.4,117.4 1405.5,116.2C1407.9,115.2 1410.4,114.5 1413.0,114.2C1414.9,113.9 1416.9,113.8 1418.9,113.9C1421.2,114.0 1423.6,114.5 1425.9,115.2C1428.5,116.0 1430.9,117.2 1433.3,118.7C1436.1,120.4 1438.7,122.6 1441.1,125.1C1443.6,127.7 1445.8,130.6 1447.8,133.8C1450.0,137.0 1451.8,140.5 1453.5,144.1C1455.5,148.4 1457.2,152.8 1458.8,157.2C1460.7,162.4 1462.3,167.7 1463.9,172.9C1465.5,178.5 1467.1,184.1 1468.6,189.6C1470.4,196.0 1472.1,202.4 1473.8,208.7C1475.3,214.3 1476.8,219.9 1478.2,225.6C1479.4,230.3 1480.6,235.1 1481.7,239.9C1483.3,246.5 1484.7,253.2 1486.0,260.0C1487.5,267.1 1488.9,274.3 1490.2,281.4C1493.3,297.4 1496.3,313.4 1499.7,329.4C1503.6,348.3 1508.0,367.1 1512.3,386.0C1514.9,397.6 1517.5,409.1 1519.9,420.7C1523.3,436.6 1526.4,452.6 1529.7,468.6C1532.7,483.8 1535.9,498.9 1539.1,514.1C1542.3,529.3 1545.5,544.4 1548.7,559.6C1551.9,575.6 1555.1,591.5 1558.3,607.5C1560.7,619.5 1563.1,631.4 1565.5,643.4C1568.0,655.6 1570.4,667.8 1572.6,680.0C1576.1,698.4 1579.2,716.9 1582.4,735.3"/>
</g>
<ellipse cx="1473.6" cy="600.4" rx="4.2" ry="3.2" fill="#fff"/>
<path fill="#000" fill-rule="evenodd" d="M237.6,56.1 H1661.5 Q1663,56.1 1663,57.6 V1052.4 Q1663,1053.9 1661.5,1053.9 H237.6 Q236.1,1053.9 236.1,1052.4 V57.6 Q236.1,56.1 237.6,56.1 Z M243.8,63.9 V1046 H1655 V63.9 Z"/>
<rect x="243.1" y="63.9" width="82" height="984.1" fill="#fff"/>
<rect x="243.1" y="63.9" width="82" height="984.1" fill="url(#hatch)"/>
<line x1="326.25" y1="64.5" x2="326.25" y2="1049.5" stroke="#FF7300" stroke-width="5" stroke-linecap="round"/>
<g fill="#808080">
<rect x="1181.2" y="536.4" width="6.6" height="24.5" rx="2.2"/><rect x="1181.2" y="573.2" width="6.6" height="24.1" rx="2.2"/><rect x="1181.2" y="609.8" width="6.6" height="24.5" rx="2.2"/><rect x="1181.2" y="646.4" width="6.6" height="24.1" rx="2.2"/>
<rect x="1540.2" y="541.7" width="6.6" height="23.9" rx="2.2"/><rect x="1540.2" y="578.2" width="6.6" height="23.8" rx="2.2"/><rect x="1540.2" y="614.7" width="6.6" height="23.9" rx="2.2"/><rect x="1540.2" y="651.2" width="6.6" height="20.3" rx="2.2"/>
<rect x="1057.1" y="730" width="6.6" height="24.6" rx="2.2"/><rect x="1057.1" y="766.6" width="6.6" height="24.9" rx="2.2"/><rect x="1057.1" y="803.3" width="6.6" height="24.7" rx="2.2"/><rect x="1057.1" y="840" width="6.6" height="24.7" rx="2.2"/>
<rect x="1520.3" y="730.3" width="6.6" height="24.3" rx="2.2"/><rect x="1520.3" y="767" width="6.6" height="24.5" rx="2.2"/><rect x="1520.3" y="803.6" width="6.6" height="24.4" rx="2.2"/><rect x="1520.3" y="840.5" width="6.6" height="20.1" rx="2.2"/>
</g>
<g transform="rotate(-0.3 1364 614.2)">
<line x1="1222" y1="614.2" x2="1506" y2="614.2" stroke="#808080" stroke-width="7.4"/>
<polygon points="1186.0,614.2 1237.0,591.7 1237.0,636.7" fill="#808080" stroke="#808080" stroke-width="7" stroke-linejoin="round"/><polygon points="1542.0,614.2 1491.0,591.7 1491.0,636.7" fill="#808080" stroke="#808080" stroke-width="7" stroke-linejoin="round"/>
</g>
<g transform="rotate(-0.28 1292.5 808)">
<line x1="1099" y1="808" x2="1486" y2="808" stroke="#808080" stroke-width="7.4"/>
<polygon points="1062.5,808 1113.5,785.5 1113.5,830.5" fill="#808080" stroke="#808080" stroke-width="7" stroke-linejoin="round"/><polygon points="1522.5,808 1471.5,785.5 1471.5,830.5" fill="#808080" stroke="#808080" stroke-width="7" stroke-linejoin="round"/>
</g>
<text x="1279" y="596.8" font-family="'Liberation Serif','Noto Sans CJK JP',sans-serif" font-size="60" fill="#000" stroke="#000" stroke-width="3.4" stroke-linejoin="miter">△</text><text x="1343" y="596.2" font-family="'Liberation Serif',serif" font-weight="bold" font-size="68" fill="#000">T</text><text x="1387.4" y="606" font-family="'Liberation Serif',serif" font-weight="bold" font-size="44" fill="#000">1</text>
<text x="1244" y="789.8" font-family="'Liberation Serif','Noto Sans CJK JP',sans-serif" font-size="60" fill="#000" stroke="#000" stroke-width="3.4" stroke-linejoin="miter">△</text><text x="1300.5" y="789.2" font-family="'Liberation Serif',serif" font-weight="bold" font-size="68" fill="#000">T</text><text x="1353.4" y="798.5" font-family="'Liberation Serif',serif" font-weight="bold" font-size="44" fill="#000">2</text>
<rect x="370" y="102.9" width="269" height="72.9" rx="13.5" fill="#2389D7"/>
<rect x="370" y="195" width="479" height="116" rx="14" fill="#FF0066"/>
<rect x="533.25" y="894" width="478.25" height="115.75" rx="14" fill="#FF0066"/>
<rect x="1065.2" y="870.7" width="268.8" height="73.3" rx="13.5" fill="#2389D7"/>
<text x="393" y="161.7" font-family="'Liberation Sans',sans-serif" font-size="54.5" fill="#fff" textLength="237" lengthAdjust="spacingAndGlyphs" id="t10">10 K/min</text>
<text x="393" y="276.7" font-family="'Liberation Sans',sans-serif" font-size="55" fill="#fff" textLength="453" lengthAdjust="spacingAndGlyphs" id="tlow">Lowered to 238K</text>
<text x="574.3" y="976" font-family="'Liberation Sans',sans-serif" font-size="55" fill="#fff" textLength="416.5" lengthAdjust="spacingAndGlyphs" id="theat">Heated to 353K</text>
<text x="1103.8" y="929.6" font-family="'Liberation Sans',sans-serif" font-size="55" fill="#fff" textLength="203.5" lengthAdjust="spacingAndGlyphs" id="t2">2 K/min</text>
<polyline points="503.4,318.4 428,318.4 305,433" fill="none" stroke="#FF0000" stroke-width="7.1" stroke-linecap="round" stroke-linejoin="miter"/>
<polygon points="279.5,457 293.5,419.8 320.3,442.7" fill="#FF0000" stroke="#FF0000" stroke-width="3" stroke-linejoin="round"/>
<line x1="1050.75" y1="959.75" x2="1365" y2="959.75" stroke="#FF0000" stroke-width="7.5" stroke-linecap="round" stroke-dasharray="44.5 32.5"/>
<polygon points="1401,959.75 1362.5,940.5 1362.5,979" fill="#FF0000" stroke="#FF0000" stroke-width="4" stroke-linejoin="round"/>
<rect x="478" y="453.4" width="494.25" height="169" rx="17" fill="#fff" stroke="#000" stroke-width="7.7"/>
<rect x="550" y="502.8" width="133.25" height="7.2" rx="1.8" fill="#FF0084"/>
<rect x="550" y="567.8" width="133.25" height="7.2" rx="1.8" fill="#0041C2"/>
<text transform="translate(724.6 528.7) scale(1.065 1)" font-family="'Liberation Sans',sans-serif" font-size="66.5" fill="#000" stroke="#000" stroke-width="0.6" id="lfo">FO</text>
<text transform="translate(720.4 595.2) scale(1.047 1)" font-family="'Liberation Sans',sans-serif" font-size="66.5" fill="#000" stroke="#000" stroke-width="0.6" id="lcm">CMTO</text>
<text transform="translate(224.6 990.2) scale(1.008 1)" font-family="'Liberation Sans',sans-serif" font-size="69" text-anchor="end" fill="#000" stroke="#000" stroke-width="0.4" class="yl">0.0</text>
<text transform="translate(224.6 810.2) scale(1.008 1)" font-family="'Liberation Sans',sans-serif" font-size="69" text-anchor="end" fill="#000" stroke="#000" stroke-width="0.4" class="yl">1.0</text>
<text transform="translate(224.6 631.0) scale(1.008 1)" font-family="'Liberation Sans',sans-serif" font-size="69" text-anchor="end" fill="#000" stroke="#000" stroke-width="0.4" class="yl">2.0</text>
<text transform="translate(224.6 451.0) scale(1.008 1)" font-family="'Liberation Sans',sans-serif" font-size="69" text-anchor="end" fill="#000" stroke="#000" stroke-width="0.4" class="yl">3.0</text>
<text transform="translate(224.6 270.5) scale(1.008 1)" font-family="'Liberation Sans',sans-serif" font-size="69" text-anchor="end" fill="#000" stroke="#000" stroke-width="0.4" class="yl">4.0</text>
<text transform="translate(224.6 90.8) scale(1.008 1)" font-family="'Liberation Sans',sans-serif" font-size="69" text-anchor="end" fill="#000" stroke="#000" stroke-width="0.4" class="yl">5.0</text>
<text transform="translate(353.5 1124.2) scale(1.027 1)" font-family="'Liberation Sans',sans-serif" font-size="69" text-anchor="middle" fill="#000" stroke="#000" stroke-width="0.4" class="xl">240</text>
<text transform="translate(575.5 1124.2) scale(1.027 1)" font-family="'Liberation Sans',sans-serif" font-size="69" text-anchor="middle" fill="#000" stroke="#000" stroke-width="0.4" class="xl">260</text>
<text transform="translate(791 1124.2) scale(1.027 1)" font-family="'Liberation Sans',sans-serif" font-size="69" text-anchor="middle" fill="#000" stroke="#000" stroke-width="0.4" class="xl">280</text>
<text transform="translate(1010.25 1124.2) scale(1.027 1)" font-family="'Liberation Sans',sans-serif" font-size="69" text-anchor="middle" fill="#000" stroke="#000" stroke-width="0.4" class="xl">300</text>
<text transform="translate(1228.4 1124.2) scale(1.027 1)" font-family="'Liberation Sans',sans-serif" font-size="69" text-anchor="middle" fill="#000" stroke="#000" stroke-width="0.4" class="xl">320</text>
<text transform="translate(1441.4 1124.2) scale(1.027 1)" font-family="'Liberation Sans',sans-serif" font-size="69" text-anchor="middle" fill="#000" stroke="#000" stroke-width="0.4" class="xl">340</text>
<text transform="translate(1665.4 1124.2) scale(1.027 1)" font-family="'Liberation Sans',sans-serif" font-size="69" text-anchor="middle" fill="#000" stroke="#000" stroke-width="0.4" class="xl">360</text>
<text y="1207.75" font-family="'Liberation Sans',sans-serif" font-weight="bold" font-size="66" fill="#000" id="xlab"><tspan x="725" textLength="376" lengthAdjust="spacing">Tempreture</tspan><tspan x="1122"> [K]</tspan></text>
<text transform="translate(85.3 743.7) rotate(-90)" font-family="'Liberation Sans',sans-serif" font-weight="bold" font-size="71.6" fill="#000" id="ylab"><tspan x="0" textLength="235.9" lengthAdjust="spacingAndGlyphs">Current</tspan><tspan> </tspan><tspan x="254.7" textLength="126" lengthAdjust="spacingAndGlyphs">[pA]</tspan></text>
</svg>
</body></html>
